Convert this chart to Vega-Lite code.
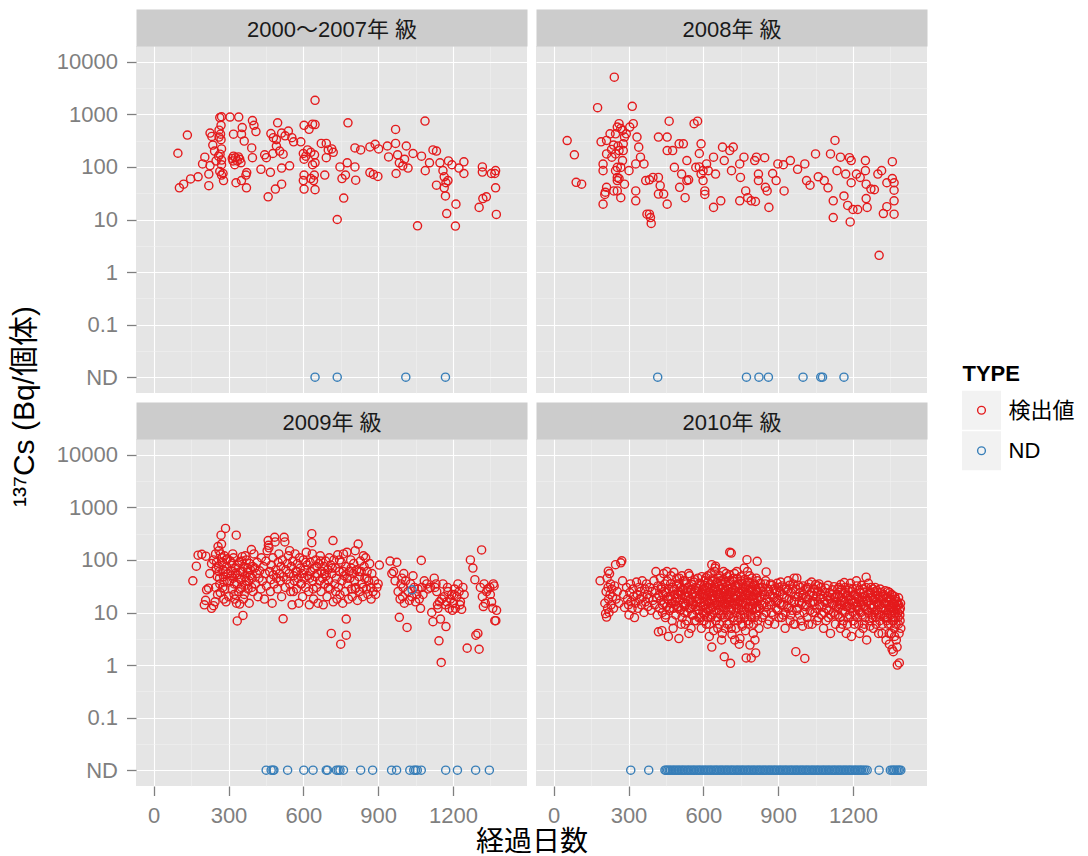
{
"$schema": "https://vega.github.io/schema/vega-lite/v6.json",
"background": "#FFFFFF",
"padding": {"left": 9, "top": 18, "right": 0, "bottom": 0},
"config": {"font": "Liberation Sans, Noto Sans CJK JP, sans-serif", "view": {"stroke": null}},
"datasets": {
"p1": [
{"day":97,"cs":182,"type":"検出値"},{"day":103,"cs":40,"type":"検出値"},{"day":120,"cs":47,"type":"検出値"},{"day":135,"cs":403,"type":"検出値"},{"day":148,"cs":59,"type":"検出値"},{"day":178,"cs":65,"type":"検出値"},{"day":196,"cs":114,"type":"検出値"},{"day":205,"cs":153,"type":"検出値"},{"day":221,"cs":44,"type":"検出値"},{"day":221,"cs":73,"type":"検出値"},{"day":226,"cs":440,"type":"検出値"},{"day":226,"cs":106,"type":"検出値"},{"day":233,"cs":380,"type":"検出値"},{"day":237,"cs":260,"type":"検出値"},{"day":244,"cs":200,"type":"検出値"},{"day":250,"cs":130,"type":"検出値"},{"day":260,"cs":160,"type":"検出値"},{"day":262,"cs":500,"type":"検出値"},{"day":265,"cs":870,"type":"検出値"},{"day":272,"cs":900,"type":"検出値"},{"day":270,"cs":620,"type":"検出値"},{"day":268,"cs":420,"type":"検出値"},{"day":262,"cs":370,"type":"検出値"},{"day":270,"cs":330,"type":"検出値"},{"day":272,"cs":220,"type":"検出値"},{"day":266,"cs":175,"type":"検出値"},{"day":272,"cs":135,"type":"検出値"},{"day":272,"cs":110,"type":"検出値"},{"day":265,"cs":82,"type":"検出値"},{"day":272,"cs":70,"type":"検出値"},{"day":278,"cs":75,"type":"検出値"},{"day":280,"cs":55,"type":"検出値"},{"day":306,"cs":890,"type":"検出値"},{"day":341,"cs":890,"type":"検出値"},{"day":315,"cs":145,"type":"検出値"},{"day":320,"cs":160,"type":"検出値"},{"day":328,"cs":150,"type":"検出値"},{"day":335,"cs":130,"type":"検出値"},{"day":345,"cs":140,"type":"検出値"},{"day":350,"cs":120,"type":"検出値"},{"day":325,"cs":110,"type":"検出値"},{"day":318,"cs":130,"type":"検出値"},{"day":340,"cs":155,"type":"検出値"},{"day":320,"cs":420,"type":"検出値"},{"day":355,"cs":560,"type":"検出値"},{"day":352,"cs":420,"type":"検出値"},{"day":363,"cs":310,"type":"検出値"},{"day":330,"cs":50,"type":"検出値"},{"day":352,"cs":55,"type":"検出値"},{"day":372,"cs":40,"type":"検出値"},{"day":370,"cs":70,"type":"検出値"},{"day":373,"cs":78,"type":"検出値"},{"day":396,"cs":760,"type":"検出値"},{"day":402,"cs":620,"type":"検出値"},{"day":410,"cs":470,"type":"検出値"},{"day":393,"cs":230,"type":"検出値"},{"day":396,"cs":150,"type":"検出値"},{"day":430,"cs":90,"type":"検出値"},{"day":445,"cs":170,"type":"検出値"},{"day":452,"cs":150,"type":"検出値"},{"day":459,"cs":27,"type":"検出値"},{"day":468,"cs":79,"type":"検出値"},{"day":488,"cs":38,"type":"検出値"},{"day":513,"cs":47,"type":"検出値"},{"day":497,"cs":690,"type":"検出値"},{"day":470,"cs":430,"type":"検出値"},{"day":480,"cs":360,"type":"検出値"},{"day":492,"cs":330,"type":"検出値"},{"day":513,"cs":440,"type":"検出値"},{"day":527,"cs":390,"type":"検出値"},{"day":540,"cs":480,"type":"検出値"},{"day":554,"cs":360,"type":"検出値"},{"day":561,"cs":300,"type":"検出値"},{"day":492,"cs":250,"type":"検出値"},{"day":505,"cs":200,"type":"検出値"},{"day":519,"cs":175,"type":"検出値"},{"day":478,"cs":180,"type":"検出値"},{"day":513,"cs":95,"type":"検出値"},{"day":545,"cs":105,"type":"検出値"},{"day":590,"cs":300,"type":"検出値"},{"day":603,"cs":620,"type":"検出値"},{"day":623,"cs":520,"type":"検出値"},{"day":637,"cs":650,"type":"検出値"},{"day":647,"cs":640,"type":"検出値"},{"day":647,"cs":1850,"type":"検出値"},{"day":600,"cs":180,"type":"検出値"},{"day":610,"cs":160,"type":"検出値"},{"day":603,"cs":140,"type":"検出値"},{"day":617,"cs":210,"type":"検出値"},{"day":630,"cs":190,"type":"検出値"},{"day":645,"cs":170,"type":"検出値"},{"day":603,"cs":70,"type":"検出値"},{"day":600,"cs":55,"type":"検出値"},{"day":603,"cs":38,"type":"検出値"},{"day":630,"cs":60,"type":"検出値"},{"day":641,"cs":55,"type":"検出値"},{"day":647,"cs":37,"type":"検出値"},{"day":644,"cs":70,"type":"検出値"},{"day":637,"cs":110,"type":"検出値"},{"day":647,"cs":120,"type":"検出値"},{"day":686,"cs":70,"type":"検出値"},{"day":672,"cs":280,"type":"検出値"},{"day":692,"cs":280,"type":"検出値"},{"day":700,"cs":210,"type":"検出値"},{"day":714,"cs":220,"type":"検出値"},{"day":720,"cs":190,"type":"検出値"},{"day":692,"cs":150,"type":"検出値"},{"day":736,"cs":10,"type":"検出値"},{"day":747,"cs":100,"type":"検出値"},{"day":762,"cs":25.6,"type":"検出値"},{"day":755,"cs":60,"type":"検出値"},{"day":769,"cs":70,"type":"検出値"},{"day":776,"cs":120,"type":"検出値"},{"day":779,"cs":690,"type":"検出値"},{"day":807,"cs":100,"type":"検出値"},{"day":810,"cs":56,"type":"検出値"},{"day":807,"cs":230,"type":"検出値"},{"day":830,"cs":210,"type":"検出値"},{"day":867,"cs":78,"type":"検出値"},{"day":881,"cs":72,"type":"検出値"},{"day":899,"cs":66,"type":"検出値"},{"day":867,"cs":240,"type":"検出値"},{"day":888,"cs":270,"type":"検出値"},{"day":902,"cs":220,"type":"検出値"},{"day":937,"cs":250,"type":"検出値"},{"day":942,"cs":155,"type":"検出値"},{"day":970,"cs":516,"type":"検出値"},{"day":972,"cs":75,"type":"検出値"},{"day":970,"cs":280,"type":"検出値"},{"day":978,"cs":170,"type":"検出値"},{"day":985,"cs":120,"type":"検出値"},{"day":999,"cs":105,"type":"検出値"},{"day":1006,"cs":140,"type":"検出値"},{"day":1013,"cs":250,"type":"検出値"},{"day":1020,"cs":95,"type":"検出値"},{"day":1040,"cs":180,"type":"検出値"},{"day":1058,"cs":7.6,"type":"検出値"},{"day":1074,"cs":160,"type":"検出値"},{"day":1088,"cs":746,"type":"検出値"},{"day":1089,"cs":85,"type":"検出値"},{"day":1106,"cs":120,"type":"検出値"},{"day":1120,"cs":210,"type":"検出値"},{"day":1134,"cs":200,"type":"検出値"},{"day":1134,"cs":45,"type":"検出値"},{"day":1148,"cs":120,"type":"検出値"},{"day":1160,"cs":85,"type":"検出値"},{"day":1165,"cs":65,"type":"検出値"},{"day":1172,"cs":50,"type":"検出値"},{"day":1165,"cs":40,"type":"検出値"},{"day":1170,"cs":28,"type":"検出値"},{"day":1175,"cs":13,"type":"検出値"},{"day":1180,"cs":55,"type":"検出値"},{"day":1182,"cs":130,"type":"検出値"},{"day":1196,"cs":110,"type":"検出値"},{"day":1210,"cs":7.5,"type":"検出値"},{"day":1212,"cs":19.6,"type":"検出値"},{"day":1224,"cs":95,"type":"検出値"},{"day":1244,"cs":125,"type":"検出値"},{"day":1244,"cs":75,"type":"検出値"},{"day":1305,"cs":17,"type":"検出値"},{"day":1320,"cs":25,"type":"検出値"},{"day":1334,"cs":27,"type":"検出値"},{"day":1318,"cs":100,"type":"検出値"},{"day":1318,"cs":80,"type":"検出値"},{"day":1354,"cs":75,"type":"検出値"},{"day":1368,"cs":75,"type":"検出値"},{"day":1371,"cs":85,"type":"検出値"},{"day":1371,"cs":40,"type":"検出値"},{"day":1374,"cs":12.5,"type":"検出値"},
{"day":647,"cs":0.01,"type":"ND"},{"day":736,"cs":0.01,"type":"ND"},{"day":1011,"cs":0.01,"type":"ND"},{"day":1170,"cs":0.01,"type":"ND"}
],
"p2": [
{"day":243,"cs":5090,"type":"検出値"},{"day":176,"cs":1340,"type":"検出値"},{"day":315,"cs":1420,"type":"検出値"},{"day":54,"cs":318,"type":"検出値"},{"day":83,"cs":170,"type":"検出値"},{"day":90,"cs":51,"type":"検出値"},{"day":112,"cs":47,"type":"検出値"},{"day":255,"cs":573,"type":"検出値"},{"day":262,"cs":664,"type":"検出値"},{"day":269,"cs":540,"type":"検出値"},{"day":276,"cs":494,"type":"検出値"},{"day":248,"cs":427,"type":"検出値"},{"day":226,"cs":427,"type":"検出値"},{"day":212,"cs":319,"type":"検出値"},{"day":190,"cs":300,"type":"検出値"},{"day":198,"cs":113,"type":"検出値"},{"day":198,"cs":85,"type":"検出値"},{"day":212,"cs":177,"type":"検出値"},{"day":233,"cs":153,"type":"検出値"},{"day":248,"cs":177,"type":"検出値"},{"day":262,"cs":205,"type":"検出値"},{"day":279,"cs":275,"type":"検出値"},{"day":279,"cs":205,"type":"検出値"},{"day":284,"cs":369,"type":"検出値"},{"day":291,"cs":427,"type":"検出値"},{"day":305,"cs":573,"type":"検出値"},{"day":319,"cs":664,"type":"検出値"},{"day":255,"cs":98,"type":"検出値"},{"day":269,"cs":98,"type":"検出値"},{"day":276,"cs":132,"type":"検出値"},{"day":248,"cs":85,"type":"検出値"},{"day":255,"cs":63,"type":"検出値"},{"day":255,"cs":55,"type":"検出値"},{"day":262,"cs":60,"type":"検出値"},{"day":284,"cs":47,"type":"検出値"},{"day":212,"cs":41,"type":"検出値"},{"day":205,"cs":30,"type":"検出値"},{"day":207,"cs":33,"type":"検出値"},{"day":255,"cs":35,"type":"検出値"},{"day":269,"cs":26,"type":"検出値"},{"day":198,"cs":19.6,"type":"検出値"},{"day":241,"cs":35,"type":"検出値"},{"day":240,"cs":260,"type":"検出値"},{"day":232,"cs":215,"type":"検出値"},{"day":258,"cs":250,"type":"検出値"},
{"day":302,"cs":85,"type":"検出値"},{"day":329,"cs":114,"type":"検出値"},{"day":334,"cs":369,"type":"検出値"},{"day":341,"cs":238,"type":"検出値"},{"day":329,"cs":35,"type":"検出値"},{"day":329,"cs":22.7,"type":"検出値"},{"day":348,"cs":153,"type":"検出値"},{"day":362,"cs":114,"type":"検出値"},{"day":369,"cs":55,"type":"検出値"},{"day":384,"cs":57,"type":"検出値"},{"day":398,"cs":63,"type":"検出値"},{"day":420,"cs":63,"type":"検出値"},{"day":420,"cs":30.5,"type":"検出値"},{"day":441,"cs":30.5,"type":"検出値"},{"day":455,"cs":19.6,"type":"検出値"},{"day":427,"cs":44,"type":"検出値"},{"day":420,"cs":369,"type":"検出値"},{"day":455,"cs":369,"type":"検出値"},{"day":455,"cs":205,"type":"検出値"},{"day":463,"cs":740,"type":"検出値"},{"day":477,"cs":205,"type":"検出値"},{"day":484,"cs":98,"type":"検出値"},{"day":505,"cs":41,"type":"検出値"},{"day":513,"cs":73,"type":"検出値"},{"day":503,"cs":275,"type":"検出値"},{"day":520,"cs":275,"type":"検出値"},{"day":527,"cs":26,"type":"検出値"},{"day":534,"cs":132,"type":"検出値"},{"day":534,"cs":55,"type":"検出値"},{"day":541,"cs":57,"type":"検出値"},{"day":563,"cs":664,"type":"検出値"},{"day":577,"cs":740,"type":"検出値"},{"day":584,"cs":180,"type":"検出値"},{"day":591,"cs":275,"type":"検出値"},{"day":570,"cs":98,"type":"検出値"},{"day":584,"cs":100,"type":"検出値"},{"day":591,"cs":73,"type":"検出値"},{"day":599,"cs":85,"type":"検出値"},{"day":599,"cs":55,"type":"検出値"},{"day":606,"cs":35,"type":"検出値"},{"day":606,"cs":30,"type":"検出値"},{"day":613,"cs":114,"type":"検出値"},{"day":620,"cs":85,"type":"検出値"},{"day":641,"cs":153,"type":"検出値"},{"day":641,"cs":17,"type":"検出値"},{"day":649,"cs":73,"type":"検出値"},{"day":670,"cs":22.7,"type":"検出値"},{"day":677,"cs":238,"type":"検出値"},{"day":684,"cs":132,"type":"検出値"},{"day":706,"cs":205,"type":"検出値"},{"day":720,"cs":238,"type":"検出値"},{"day":713,"cs":85,"type":"検出値"},{"day":746,"cs":114,"type":"検出値"},{"day":749,"cs":63,"type":"検出値"},{"day":746,"cs":22.7,"type":"検出値"},{"day":763,"cs":153,"type":"検出値"},{"day":770,"cs":35,"type":"検出値"},{"day":778,"cs":26,"type":"検出値"},{"day":792,"cs":22.7,"type":"検出値"},{"day":809,"cs":22,"type":"検出値"},{"day":806,"cs":132,"type":"検出値"},{"day":813,"cs":153,"type":"検出値"},{"day":821,"cs":73,"type":"検出値"},{"day":821,"cs":55,"type":"検出値"},{"day":846,"cs":150,"type":"検出値"},{"day":849,"cs":41,"type":"検出値"},{"day":856,"cs":35,"type":"検出値"},{"day":863,"cs":17,"type":"検出値"},{"day":878,"cs":75,"type":"検出値"},{"day":892,"cs":55,"type":"検出値"},{"day":899,"cs":114,"type":"検出値"},{"day":921,"cs":110,"type":"検出値"},{"day":924,"cs":35,"type":"検出値"},{"day":949,"cs":132,"type":"検出値"},{"day":978,"cs":90,"type":"検出値"},{"day":1007,"cs":114,"type":"検出値"},{"day":1014,"cs":55,"type":"検出値"},{"day":1028,"cs":45,"type":"検出値"},{"day":1050,"cs":177,"type":"検出値"},{"day":1061,"cs":65,"type":"検出値"},{"day":1085,"cs":55,"type":"検出値"},{"day":1100,"cs":40,"type":"検出値"},{"day":1110,"cs":177,"type":"検出値"},{"day":1128,"cs":319,"type":"検出値"},{"day":1150,"cs":153,"type":"検出値"},{"day":1121,"cs":22.7,"type":"検出値"},{"day":1121,"cs":10.9,"type":"検出値"},{"day":1136,"cs":85,"type":"検出値"},{"day":1164,"cs":28,"type":"検出値"},{"day":1171,"cs":73,"type":"検出値"},{"day":1179,"cs":18.5,"type":"検出値"},{"day":1186,"cs":150,"type":"検出値"},{"day":1189,"cs":9,"type":"検出値"},{"day":1193,"cs":132,"type":"検出値"},{"day":1193,"cs":50,"type":"検出値"},{"day":1200,"cs":15.5,"type":"検出値"},{"day":1214,"cs":73,"type":"検出値"},{"day":1219,"cs":15.5,"type":"検出値"},{"day":1229,"cs":63,"type":"検出値"},{"day":1250,"cs":132,"type":"検出値"},{"day":1250,"cs":85,"type":"検出値"},{"day":1253,"cs":47,"type":"検出値"},{"day":1253,"cs":25,"type":"検出値"},{"day":1257,"cs":17,"type":"検出値"},{"day":1272,"cs":38,"type":"検出値"},{"day":1286,"cs":37,"type":"検出値"},{"day":1300,"cs":73,"type":"検出値"},{"day":1315,"cs":85,"type":"検出値"},{"day":1336,"cs":50,"type":"検出値"},{"day":1358,"cs":60,"type":"検出値"},{"day":1358,"cs":126,"type":"検出値"},{"day":1365,"cs":50,"type":"検出値"},{"day":1365,"cs":36,"type":"検出値"},{"day":1365,"cs":22.7,"type":"検出値"},{"day":1336,"cs":17.5,"type":"検出値"},{"day":1322,"cs":13,"type":"検出値"},{"day":1365,"cs":12.6,"type":"検出値"},{"day":1305,"cs":2.08,"type":"検出値"},{"day":388,"cs":10.9,"type":"検出値"},{"day":384,"cs":12.6,"type":"検出値"},{"day":374,"cs":12.6,"type":"検出値"},{"day":391,"cs":8.4,"type":"検出値"},
{"day":417,"cs":0.01,"type":"ND"},{"day":773,"cs":0.01,"type":"ND"},{"day":823,"cs":0.01,"type":"ND"},{"day":861,"cs":0.01,"type":"ND"},{"day":1000,"cs":0.01,"type":"ND"},{"day":1071,"cs":0.01,"type":"ND"},{"day":1078,"cs":0.01,"type":"ND"},{"day":1164,"cs":0.01,"type":"ND"}
],
"p3": [
{"day":157,"cs":40,"type":"検出値"},{"day":171,"cs":76,"type":"検出値"},{"day":178,"cs":123,"type":"検出値"},{"day":193,"cs":128,"type":"検出値"},{"day":209,"cs":118,"type":"検出値"},{"day":203,"cs":14,"type":"検出値"},{"day":208,"cs":17,"type":"検出値"},{"day":212,"cs":27,"type":"検出値"},{"day":220,"cs":29,"type":"検出値"},{"day":232,"cs":12,"type":"検出値"},{"day":240,"cs":13.5,"type":"検出値"},{"day":246,"cs":16,"type":"検出値"},{"day":225,"cs":55,"type":"検出値"},{"day":232,"cs":85,"type":"検出値"},{"day":240,"cs":100,"type":"検出値"},{"day":248,"cs":130,"type":"検出値"},{"day":251,"cs":70,"type":"検出値"},{"day":255,"cs":48,"type":"検出値"},{"day":248,"cs":30,"type":"検出値"},
{"day":258,"cs":180,"type":"検出値"},{"day":262,"cs":150,"type":"検出値"},{"day":262,"cs":60,"type":"検出値"},{"day":265,"cs":35,"type":"検出値"},{"day":267,"cs":24,"type":"検出値"},{"day":270,"cs":296,"type":"検出値"},{"day":272,"cs":200,"type":"検出値"},{"day":274,"cs":110,"type":"検出値"},{"day":276,"cs":90,"type":"検出値"},{"day":278,"cs":65,"type":"検出値"},{"day":280,"cs":48,"type":"検出値"},{"day":282,"cs":38,"type":"検出値"},{"day":285,"cs":28,"type":"検出値"},{"day":288,"cs":397,"type":"検出値"},{"day":283,"cs":120,"type":"検出値"},{"day":290,"cs":16,"type":"検出値"},{"day":292,"cs":75,"type":"検出値"},{"day":295,"cs":105,"type":"検出値"},{"day":298,"cs":55,"type":"検出値"},
{"day":305,"cs":40,"type":"検出値"},{"day":310,"cs":62,"type":"検出値"},{"day":313,"cs":85,"type":"検出値"},{"day":315,"cs":28,"type":"検出値"},{"day":318,"cs":45,"type":"検出値"},{"day":320,"cs":110,"type":"検出値"},{"day":322,"cs":22,"type":"検出値"},{"day":325,"cs":18,"type":"検出値"},{"day":328,"cs":70,"type":"検出値"},{"day":331,"cs":296,"type":"検出値"},{"day":333,"cs":35,"type":"検出値"},{"day":335,"cs":6.9,"type":"検出値"},{"day":336,"cs":52,"type":"検出値"},{"day":340,"cs":25,"type":"検出値"},{"day":343,"cs":90,"type":"検出値"},{"day":345,"cs":14.5,"type":"検出値"},{"day":348,"cs":60,"type":"検出値"},{"day":350,"cs":42,"type":"検出値"},{"day":352,"cs":30,"type":"検出値"},{"day":355,"cs":115,"type":"検出値"},{"day":358,"cs":8.8,"type":"検出値"},{"day":360,"cs":18,"type":"検出値"},{"day":362,"cs":75,"type":"検出値"},{"day":365,"cs":48,"type":"検出値"},{"day":368,"cs":33,"type":"検出値"},{"day":372,"cs":100,"type":"検出値"},{"day":375,"cs":58,"type":"検出値"},{"day":378,"cs":28,"type":"検出値"},{"day":382,"cs":40,"type":"検出値"},{"day":385,"cs":85,"type":"検出値"},{"day":388,"cs":65,"type":"検出値"},{"day":392,"cs":157,"type":"検出値"},{"day":395,"cs":45,"type":"検出値"},{"day":398,"cs":25,"type":"検出値"},
{"day":252,"cs":90,"type":"検出値"},{"day":256,"cs":22,"type":"検出値"},{"day":260,"cs":75,"type":"検出値"},{"day":264,"cs":45,"type":"検出値"},{"day":268,"cs":130,"type":"検出値"},{"day":277,"cs":30,"type":"検出値"},{"day":281,"cs":18,"type":"検出値"},{"day":287,"cs":60,"type":"検出値"},{"day":291,"cs":100,"type":"検出値"},{"day":296,"cs":40,"type":"検出値"},{"day":301,"cs":20,"type":"検出値"},{"day":307,"cs":95,"type":"検出値"},{"day":312,"cs":50,"type":"検出値"},{"day":317,"cs":130,"type":"検出値"},{"day":323,"cs":35,"type":"検出値"},{"day":327,"cs":55,"type":"検出値"},{"day":332,"cs":15,"type":"検出値"},{"day":338,"cs":80,"type":"検出値"},{"day":342,"cs":45,"type":"検出値"},{"day":347,"cs":28,"type":"検出値"},{"day":353,"cs":95,"type":"検出値"},{"day":357,"cs":60,"type":"検出値"},{"day":363,"cs":22,"type":"検出値"},{"day":367,"cs":120,"type":"検出値"},{"day":371,"cs":40,"type":"検出値"},{"day":377,"cs":70,"type":"検出値"},{"day":383,"cs":15,"type":"検出値"},{"day":387,"cs":50,"type":"検出値"},{"day":393,"cs":30,"type":"検出値"},{"day":397,"cs":75,"type":"検出値"},
{"day":402,"cs":130,"type":"検出値"},{"day":405,"cs":70,"type":"検出値"},{"day":408,"cs":35,"type":"検出値"},{"day":412,"cs":55,"type":"検出値"},{"day":415,"cs":90,"type":"検出値"},{"day":418,"cs":20,"type":"検出値"},{"day":422,"cs":45,"type":"検出値"},{"day":425,"cs":62,"type":"検出値"},{"day":430,"cs":28,"type":"検出値"},{"day":432,"cs":110,"type":"検出値"},{"day":436,"cs":40,"type":"検出値"},{"day":440,"cs":75,"type":"検出値"},{"day":444,"cs":18,"type":"検出値"},{"day":447,"cs":55,"type":"検出値"},{"day":450,"cs":95,"type":"検出値"},{"day":452,"cs":32,"type":"検出値"},{"day":455,"cs":150,"type":"検出値"},{"day":459,"cs":234,"type":"検出値"},{"day":460,"cs":190,"type":"検出値"},{"day":462,"cs":170,"type":"検出値"},{"day":465,"cs":60,"type":"検出値"},{"day":468,"cs":25,"type":"検出値"},{"day":470,"cs":42,"type":"検出値"},{"day":472,"cs":80,"type":"検出値"},{"day":475,"cs":15,"type":"検出値"},{"day":478,"cs":110,"type":"検出値"},{"day":480,"cs":52,"type":"検出値"},{"day":483,"cs":35,"type":"検出値"},{"day":485,"cs":270,"type":"検出値"},{"day":487,"cs":220,"type":"検出値"},{"day":490,"cs":65,"type":"検出値"},{"day":493,"cs":45,"type":"検出値"},{"day":496,"cs":28,"type":"検出値"},{"day":499,"cs":90,"type":"検出値"},
{"day":502,"cs":130,"type":"検出値"},{"day":505,"cs":55,"type":"検出値"},{"day":508,"cs":40,"type":"検出値"},{"day":510,"cs":75,"type":"検出値"},{"day":513,"cs":20,"type":"検出値"},{"day":516,"cs":100,"type":"検出値"},{"day":519,"cs":7.6,"type":"検出値"},{"day":520,"cs":48,"type":"検出値"},{"day":523,"cs":270,"type":"検出値"},{"day":526,"cs":220,"type":"検出値"},{"day":528,"cs":30,"type":"検出値"},{"day":530,"cs":65,"type":"検出値"},{"day":533,"cs":42,"type":"検出値"},{"day":536,"cs":85,"type":"検出値"},{"day":540,"cs":120,"type":"検出値"},{"day":543,"cs":55,"type":"検出値"},{"day":546,"cs":35,"type":"検出値"},{"day":549,"cs":25,"type":"検出値"},{"day":552,"cs":75,"type":"検出値"},{"day":555,"cs":14,"type":"検出値"},{"day":558,"cs":95,"type":"検出値"},{"day":561,"cs":50,"type":"検出値"},{"day":564,"cs":40,"type":"検出値"},{"day":567,"cs":130,"type":"検出値"},{"day":570,"cs":60,"type":"検出値"},{"day":573,"cs":28,"type":"検出値"},{"day":576,"cs":85,"type":"検出値"},{"day":579,"cs":45,"type":"検出値"},{"day":582,"cs":15,"type":"検出値"},{"day":585,"cs":110,"type":"検出値"},{"day":588,"cs":70,"type":"検出値"},{"day":590,"cs":35,"type":"検出値"},{"day":594,"cs":55,"type":"検出値"},{"day":597,"cs":20,"type":"検出値"},
{"day":545,"cs":150,"type":"検出値"},{"day":560,"cs":25,"type":"検出値"},{"day":575,"cs":60,"type":"検出値"},{"day":593,"cs":35,"type":"検出値"},{"day":610,"cs":90,"type":"検出値"},{"day":625,"cs":45,"type":"検出値"},{"day":640,"cs":28,"type":"検出値"},{"day":655,"cs":75,"type":"検出値"},{"day":670,"cs":95,"type":"検出値"},{"day":685,"cs":55,"type":"検出値"},{"day":700,"cs":30,"type":"検出値"},{"day":716,"cs":70,"type":"検出値"},{"day":730,"cs":25,"type":"検出値"},{"day":745,"cs":100,"type":"検出値"},{"day":760,"cs":60,"type":"検出値"},{"day":776,"cs":45,"type":"検出値"},{"day":792,"cs":70,"type":"検出値"},{"day":808,"cs":28,"type":"検出値"},{"day":824,"cs":60,"type":"検出値"},{"day":840,"cs":30,"type":"検出値"},{"day":856,"cs":45,"type":"検出値"},{"day":872,"cs":18,"type":"検出値"},
{"day":600,"cs":100,"type":"検出値"},{"day":603,"cs":45,"type":"検出値"},{"day":606,"cs":65,"type":"検出値"},{"day":609,"cs":30,"type":"検出値"},{"day":612,"cs":140,"type":"検出値"},{"day":615,"cs":80,"type":"検出値"},{"day":618,"cs":50,"type":"検出値"},{"day":621,"cs":25,"type":"検出値"},{"day":624,"cs":14,"type":"検出値"},{"day":627,"cs":90,"type":"検出値"},{"day":630,"cs":60,"type":"検出値"},{"day":634,"cs":315,"type":"検出値"},{"day":634,"cs":213,"type":"検出値"},{"day":636,"cs":130,"type":"検出値"},{"day":638,"cs":40,"type":"検出値"},{"day":641,"cs":18,"type":"検出値"},{"day":644,"cs":70,"type":"検出値"},{"day":647,"cs":48,"type":"検出値"},{"day":650,"cs":100,"type":"検出値"},{"day":653,"cs":30,"type":"検出値"},{"day":656,"cs":55,"type":"検出値"},{"day":659,"cs":15,"type":"検出値"},{"day":662,"cs":85,"type":"検出値"},{"day":665,"cs":40,"type":"検出値"},{"day":668,"cs":120,"type":"検出値"},{"day":671,"cs":25,"type":"検出値"},{"day":674,"cs":60,"type":"検出値"},{"day":677,"cs":45,"type":"検出値"},{"day":680,"cs":14,"type":"検出値"},{"day":683,"cs":75,"type":"検出値"},{"day":686,"cs":35,"type":"検出値"},{"day":689,"cs":95,"type":"検出値"},{"day":692,"cs":50,"type":"検出値"},{"day":695,"cs":20,"type":"検出値"},{"day":698,"cs":65,"type":"検出値"},
{"day":701,"cs":40,"type":"検出値"},{"day":704,"cs":110,"type":"検出値"},{"day":707,"cs":28,"type":"検出値"},{"day":710,"cs":80,"type":"検出値"},{"day":712,"cs":4.0,"type":"検出値"},{"day":715,"cs":55,"type":"検出値"},{"day":719,"cs":234,"type":"検出値"},{"day":720,"cs":16,"type":"検出値"},{"day":723,"cs":100,"type":"検出値"},{"day":726,"cs":35,"type":"検出値"},{"day":729,"cs":70,"type":"検出値"},{"day":732,"cs":45,"type":"検出値"},{"day":735,"cs":18,"type":"検出値"},{"day":738,"cs":125,"type":"検出値"},{"day":741,"cs":30,"type":"検出値"},{"day":744,"cs":60,"type":"検出値"},{"day":747,"cs":22,"type":"検出値"},{"day":750,"cs":2.5,"type":"検出値"},{"day":752,"cs":90,"type":"検出値"},{"day":755,"cs":40,"type":"検出値"},{"day":758,"cs":15,"type":"検出値"},{"day":761,"cs":130,"type":"検出値"},{"day":764,"cs":50,"type":"検出値"},{"day":767,"cs":25,"type":"検出値"},{"day":770,"cs":75,"type":"検出値"},{"day":772,"cs":3.7,"type":"検出値"},{"day":772,"cs":7.5,"type":"検出値"},{"day":775,"cs":140,"type":"検出値"},{"day":778,"cs":35,"type":"検出値"},{"day":781,"cs":18,"type":"検出値"},{"day":784,"cs":60,"type":"検出値"},{"day":787,"cs":45,"type":"検出値"},{"day":790,"cs":100,"type":"検出値"},{"day":793,"cs":28,"type":"検出値"},{"day":796,"cs":20,"type":"検出値"},{"day":799,"cs":55,"type":"検出値"},
{"day":802,"cs":85,"type":"検出値"},{"day":805,"cs":40,"type":"検出値"},{"day":808,"cs":150,"type":"検出値"},{"day":811,"cs":30,"type":"検出値"},{"day":814,"cs":65,"type":"検出値"},{"day":817,"cs":17,"type":"検出値"},{"day":820,"cs":200,"type":"検出値"},{"day":823,"cs":48,"type":"検出値"},{"day":826,"cs":25,"type":"検出値"},{"day":829,"cs":95,"type":"検出値"},{"day":832,"cs":60,"type":"検出値"},{"day":835,"cs":35,"type":"検出値"},{"day":838,"cs":20,"type":"検出値"},{"day":841,"cs":120,"type":"検出値"},{"day":844,"cs":75,"type":"検出値"},{"day":847,"cs":45,"type":"検出値"},{"day":850,"cs":110,"type":"検出値"},{"day":853,"cs":28,"type":"検出値"},{"day":856,"cs":60,"type":"検出値"},{"day":859,"cs":22,"type":"検出値"},{"day":862,"cs":40,"type":"検出値"},{"day":866,"cs":85,"type":"検出値"},{"day":870,"cs":30,"type":"検出値"},{"day":875,"cs":55,"type":"検出値"},{"day":880,"cs":25,"type":"検出値"},{"day":885,"cs":40,"type":"検出値"},{"day":890,"cs":22,"type":"検出値"},{"day":895,"cs":30,"type":"検出値"},{"day":900,"cs":35,"type":"検出値"},{"day":905,"cs":80,"type":"検出値"},
{"day":948,"cs":95,"type":"検出値"},{"day":955,"cs":55,"type":"検出値"},{"day":962,"cs":60,"type":"検出値"},{"day":968,"cs":40,"type":"検出値"},{"day":975,"cs":90,"type":"検出値"},{"day":980,"cs":25,"type":"検出値"},{"day":985,"cs":8.1,"type":"検出値"},{"day":988,"cs":18,"type":"検出値"},{"day":992,"cs":35,"type":"検出値"},{"day":995,"cs":45,"type":"検出値"},{"day":998,"cs":20,"type":"検出値"},{"day":1000,"cs":30,"type":"検出値"},{"day":1003,"cs":55,"type":"検出値"},
{"day":1005,"cs":15,"type":"検出値"},{"day":1010,"cs":40,"type":"検出値"},{"day":1016,"cs":5.2,"type":"検出値"},{"day":1020,"cs":25,"type":"検出値"},{"day":1025,"cs":17,"type":"検出値"},{"day":1030,"cs":35,"type":"検出値"},{"day":1035,"cs":20,"type":"検出値"},{"day":1040,"cs":50,"type":"検出値"},{"day":1045,"cs":30,"type":"検出値"},{"day":1050,"cs":16,"type":"検出値"},{"day":1055,"cs":22,"type":"検出値"},{"day":1060,"cs":28,"type":"検出値"},{"day":1065,"cs":18,"type":"検出値"},{"day":1070,"cs":12,"type":"検出値"},{"day":1073,"cs":98,"type":"検出値"},{"day":1075,"cs":30,"type":"検出値"},{"day":1080,"cs":22,"type":"検出値"},{"day":1085,"cs":40,"type":"検出値"},{"day":1095,"cs":35,"type":"検出値"},{"day":1100,"cs":28,"type":"検出値"},
{"day":1110,"cs":30,"type":"検出値"},{"day":1115,"cs":10,"type":"検出値"},{"day":1120,"cs":6.7,"type":"検出値"},{"day":1125,"cs":45,"type":"検出値"},{"day":1128,"cs":30,"type":"検出値"},{"day":1132,"cs":35,"type":"検出値"},{"day":1135,"cs":25,"type":"検出値"},{"day":1138,"cs":14,"type":"検出値"},{"day":1140,"cs":12,"type":"検出値"},{"day":1144,"cs":2.9,"type":"検出値"},{"day":1146,"cs":16,"type":"検出値"},{"day":1150,"cs":7.5,"type":"検出値"},{"day":1153,"cs":1.12,"type":"検出値"},{"day":1155,"cs":18,"type":"検出値"},{"day":1160,"cs":35,"type":"検出値"},{"day":1165,"cs":20,"type":"検出値"},{"day":1170,"cs":14,"type":"検出値"},{"day":1172,"cs":5.4,"type":"検出値"},{"day":1175,"cs":16,"type":"検出値"},{"day":1178,"cs":30,"type":"検出値"},{"day":1180,"cs":25,"type":"検出値"},{"day":1185,"cs":12,"type":"検出値"},{"day":1190,"cs":18,"type":"検出値"},{"day":1195,"cs":22,"type":"検出値"},{"day":1198,"cs":11,"type":"検出値"},
{"day":1202,"cs":15,"type":"検出値"},{"day":1205,"cs":22,"type":"検出値"},{"day":1206,"cs":28,"type":"検出値"},{"day":1210,"cs":12,"type":"検出値"},{"day":1215,"cs":20,"type":"検出値"},{"day":1220,"cs":35,"type":"検出値"},{"day":1225,"cs":25,"type":"検出値"},{"day":1228,"cs":14,"type":"検出値"},{"day":1230,"cs":16,"type":"検出値"},{"day":1235,"cs":11.5,"type":"検出値"},{"day":1240,"cs":30,"type":"検出値"},{"day":1245,"cs":22,"type":"検出値"},{"day":1257,"cs":2.1,"type":"検出値"},{"day":1270,"cs":100,"type":"検出値"},{"day":1280,"cs":70,"type":"検出値"},{"day":1288,"cs":42,"type":"検出値"},{"day":1292,"cs":3.7,"type":"検出値"},{"day":1300,"cs":4.0,"type":"検出値"},{"day":1305,"cs":2.0,"type":"検出値"},{"day":1310,"cs":30,"type":"検出値"},{"day":1315,"cs":155,"type":"検出値"},{"day":1318,"cs":20,"type":"検出値"},{"day":1322,"cs":13,"type":"検出値"},{"day":1325,"cs":35,"type":"検出値"},{"day":1330,"cs":15,"type":"検出値"},{"day":1335,"cs":25,"type":"検出値"},{"day":1340,"cs":28,"type":"検出値"},{"day":1348,"cs":30,"type":"検出値"},{"day":1350,"cs":22,"type":"検出値"},{"day":1355,"cs":16,"type":"検出値"},{"day":1360,"cs":12,"type":"検出値"},{"day":1362,"cs":35,"type":"検出値"},{"day":1365,"cs":32,"type":"検出値"},{"day":1368,"cs":7,"type":"検出値"},{"day":1372,"cs":7,"type":"検出値"},{"day":1375,"cs":11,"type":"検出値"},
{"day":1036,"cs":27,"type":"ND"},
{"day":451,"cs":0.01,"type":"ND"},{"day":471,"cs":0.01,"type":"ND"},{"day":478,"cs":0.01,"type":"ND"},{"day":482,"cs":0.01,"type":"ND"},{"day":537,"cs":0.01,"type":"ND"},{"day":602,"cs":0.01,"type":"ND"},{"day":639,"cs":0.01,"type":"ND"},{"day":692,"cs":0.01,"type":"ND"},{"day":697,"cs":0.01,"type":"ND"},{"day":733,"cs":0.01,"type":"ND"},{"day":740,"cs":0.01,"type":"ND"},{"day":747,"cs":0.01,"type":"ND"},{"day":761,"cs":0.01,"type":"ND"},{"day":830,"cs":0.01,"type":"ND"},{"day":878,"cs":0.01,"type":"ND"},{"day":954,"cs":0.01,"type":"ND"},{"day":974,"cs":0.01,"type":"ND"},{"day":1027,"cs":0.01,"type":"ND"},{"day":1043,"cs":0.01,"type":"ND"},{"day":1050,"cs":0.01,"type":"ND"},{"day":1057,"cs":0.01,"type":"ND"},{"day":1073,"cs":0.01,"type":"ND"},{"day":1171,"cs":0.01,"type":"ND"},{"day":1218,"cs":0.01,"type":"ND"},{"day":1291,"cs":0.01,"type":"ND"},{"day":1346,"cs":0.01,"type":"ND"}
],
"p4": [
{"day":186,"cs":40,"type":"検出値"},{"day":205,"cs":15,"type":"検出値"},{"day":208,"cs":9.5,"type":"検出値"},{"day":210,"cs":25,"type":"検出値"},{"day":212,"cs":8.2,"type":"検出値"},{"day":214,"cs":45,"type":"検出値"},{"day":216,"cs":12,"type":"検出値"},{"day":218,"cs":30,"type":"検出値"},{"day":219,"cs":61,"type":"検出値"},{"day":220,"cs":18,"type":"検出値"},{"day":222,"cs":10,"type":"検出値"},{"day":224,"cs":55,"type":"検出値"},{"day":226,"cs":22,"type":"検出値"},{"day":228,"cs":35,"type":"検出値"},{"day":230,"cs":14,"type":"検出値"},{"day":233,"cs":28,"type":"検出値"},{"day":236,"cs":20,"type":"検出値"},{"day":240,"cs":12,"type":"検出値"},{"day":244,"cs":32,"type":"検出値"},{"day":248,"cs":81,"type":"検出値"},{"day":250,"cs":18,"type":"検出値"},{"day":255,"cs":25,"type":"検出値"},{"day":262,"cs":15,"type":"検出値"},{"day":269,"cs":88,"type":"検出値"},{"day":273,"cs":96,"type":"検出値"},{"day":276,"cs":40,"type":"検出値"},{"day":280,"cs":22,"type":"検出値"},{"day":284,"cs":12.5,"type":"検出値"},
{"day":292,"cs":30,"type":"検出値"},{"day":296,"cs":18,"type":"検出値"},{"day":300,"cs":14,"type":"検出値"},{"day":302,"cs":9,"type":"検出値"},{"day":305,"cs":24,"type":"検出値"},{"day":308,"cs":35,"type":"検出値"},{"day":310,"cs":16,"type":"検出値"},{"day":314,"cs":12,"type":"検出値"},{"day":318,"cs":28,"type":"検出値"},{"day":320,"cs":20,"type":"検出値"},{"day":324,"cs":8,"type":"検出値"},{"day":328,"cs":15,"type":"検出値"},{"day":332,"cs":38,"type":"検出値"},{"day":335,"cs":22,"type":"検出値"},{"day":338,"cs":12,"type":"検出値"},{"day":342,"cs":30,"type":"検出値"},{"day":345,"cs":18,"type":"検出値"},{"day":348,"cs":25,"type":"検出値"},{"day":352,"cs":14,"type":"検出値"},{"day":355,"cs":40,"type":"検出値"},{"day":358,"cs":20,"type":"検出値"},{"day":362,"cs":10,"type":"検出値"},{"day":365,"cs":28,"type":"検出値"},{"day":368,"cs":16,"type":"検出値"},{"day":372,"cs":35,"type":"検出値"},{"day":375,"cs":22,"type":"検出値"},{"day":378,"cs":13,"type":"検出値"},{"day":382,"cs":19,"type":"検出値"},{"day":385,"cs":30,"type":"検出値"},{"day":390,"cs":11,"type":"検出値"},{"day":394,"cs":25,"type":"検出値"},{"day":398,"cs":17,"type":"検出値"},
{"day":402,"cs":40,"type":"検出値"},{"day":405,"cs":14,"type":"検出値"},{"day":408,"cs":26,"type":"検出値"},{"day":410,"cs":60,"type":"検出値"},{"day":412,"cs":19,"type":"検出値"},{"day":415,"cs":9,"type":"検出値"},{"day":418,"cs":32,"type":"検出値"},{"day":420,"cs":4.3,"type":"検出値"},{"day":422,"cs":21,"type":"検出値"},{"day":425,"cs":12,"type":"検出値"},{"day":428,"cs":45,"type":"検出値"},{"day":430,"cs":17,"type":"検出値"},{"day":432,"cs":28,"type":"検出値"},{"day":434,"cs":4.5,"type":"検出値"},{"day":436,"cs":10,"type":"検出値"},{"day":438,"cs":22,"type":"検出値"},{"day":441,"cs":55,"type":"検出値"},{"day":443,"cs":15,"type":"検出値"},{"day":446,"cs":35,"type":"検出値"},{"day":448,"cs":8,"type":"検出値"},{"day":450,"cs":24,"type":"検出値"},{"day":453,"cs":13,"type":"検出値"},{"day":455,"cs":40,"type":"検出値"},{"day":458,"cs":18,"type":"検出値"},{"day":460,"cs":3.5,"type":"検出値"},{"day":462,"cs":28,"type":"検出値"},{"day":465,"cs":11,"type":"検出値"},{"day":468,"cs":20,"type":"検出値"},{"day":470,"cs":50,"type":"検出値"},{"day":472,"cs":15,"type":"検出値"},{"day":475,"cs":7,"type":"検出値"},{"day":478,"cs":30,"type":"検出値"},{"day":480,"cs":12,"type":"検出値"},{"day":482,"cs":58,"type":"検出値"},{"day":485,"cs":22,"type":"検出値"},{"day":488,"cs":16,"type":"検出値"},{"day":490,"cs":9,"type":"検出値"},{"day":493,"cs":35,"type":"検出値"},{"day":495,"cs":19,"type":"検出値"},{"day":498,"cs":13,"type":"検出値"},
{"day":431,"cs":30,"type":"検出値"},{"day":437,"cs":14,"type":"検出値"},{"day":444,"cs":25,"type":"検出値"},{"day":449,"cs":9,"type":"検出値"},{"day":454,"cs":60,"type":"検出値"},{"day":459,"cs":20,"type":"検出値"},{"day":464,"cs":12,"type":"検出値"},{"day":469,"cs":35,"type":"検出値"},{"day":474,"cs":18,"type":"検出値"},{"day":479,"cs":5,"type":"検出値"},{"day":484,"cs":28,"type":"検出値"},{"day":489,"cs":14,"type":"検出値"},{"day":494,"cs":45,"type":"検出値"},{"day":497,"cs":22,"type":"検出値"},
{"day":500,"cs":25,"type":"検出値"},{"day":502,"cs":3.2,"type":"検出値"},{"day":504,"cs":45,"type":"検出値"},{"day":506,"cs":17,"type":"検出値"},{"day":508,"cs":11,"type":"検出値"},{"day":510,"cs":30,"type":"検出値"},{"day":512,"cs":22,"type":"検出値"},{"day":515,"cs":8,"type":"検出値"},{"day":518,"cs":15,"type":"検出値"},{"day":520,"cs":40,"type":"検出値"},{"day":522,"cs":27,"type":"検出値"},{"day":525,"cs":13,"type":"検出値"},{"day":527,"cs":6,"type":"検出値"},{"day":530,"cs":20,"type":"検出値"},{"day":532,"cs":35,"type":"検出値"},{"day":535,"cs":10,"type":"検出値"},{"day":537,"cs":24,"type":"検出値"},{"day":540,"cs":16,"type":"検出値"},{"day":542,"cs":4,"type":"検出値"},{"day":545,"cs":50,"type":"検出値"},{"day":547,"cs":18,"type":"検出値"},{"day":550,"cs":12,"type":"検出値"},{"day":552,"cs":28,"type":"検出値"},{"day":555,"cs":9,"type":"検出値"},{"day":557,"cs":22,"type":"検出値"},{"day":560,"cs":14,"type":"検出値"},{"day":562,"cs":38,"type":"検出値"},{"day":565,"cs":7,"type":"検出値"},{"day":567,"cs":20,"type":"検出値"},{"day":570,"cs":30,"type":"検出値"},{"day":572,"cs":11,"type":"検出値"},{"day":575,"cs":16,"type":"検出値"},{"day":578,"cs":45,"type":"検出値"},{"day":580,"cs":25,"type":"検出値"},{"day":582,"cs":8,"type":"検出値"},{"day":585,"cs":18,"type":"検出値"},{"day":588,"cs":13,"type":"検出値"},{"day":590,"cs":33,"type":"検出値"},{"day":592,"cs":5,"type":"検出値"},{"day":595,"cs":22,"type":"検出値"},{"day":598,"cs":10,"type":"検出値"},
{"day":501,"cs":12,"type":"検出値"},{"day":503,"cs":35,"type":"検出値"},{"day":507,"cs":24,"type":"検出値"},{"day":511,"cs":6,"type":"検出値"},{"day":514,"cs":50,"type":"検出値"},{"day":516,"cs":19,"type":"検出値"},{"day":519,"cs":28,"type":"検出値"},{"day":523,"cs":10,"type":"検出値"},{"day":526,"cs":40,"type":"検出値"},{"day":529,"cs":15,"type":"検出値"},{"day":533,"cs":7,"type":"検出値"},{"day":536,"cs":30,"type":"検出値"},{"day":539,"cs":20,"type":"検出値"},{"day":541,"cs":55,"type":"検出値"},{"day":544,"cs":12,"type":"検出値"},{"day":548,"cs":26,"type":"検出値"},{"day":551,"cs":5,"type":"検出値"},{"day":554,"cs":34,"type":"検出値"},{"day":556,"cs":16,"type":"検出値"},{"day":559,"cs":9,"type":"検出値"},{"day":563,"cs":24,"type":"検出値"},{"day":566,"cs":42,"type":"検出値"},{"day":569,"cs":13,"type":"検出値"},{"day":571,"cs":7,"type":"検出値"},{"day":574,"cs":29,"type":"検出値"},{"day":577,"cs":18,"type":"検出値"},{"day":581,"cs":11,"type":"検出値"},{"day":584,"cs":36,"type":"検出値"},{"day":586,"cs":22,"type":"検出値"},{"day":589,"cs":8,"type":"検出値"},{"day":591,"cs":15,"type":"検出値"},{"day":594,"cs":48,"type":"検出値"},{"day":596,"cs":27,"type":"検出値"},{"day":599,"cs":13,"type":"検出値"},
{"day":600,"cs":28,"type":"検出値"},{"day":602,"cs":16,"type":"検出値"},{"day":604,"cs":9,"type":"検出値"},{"day":606,"cs":40,"type":"検出値"},{"day":608,"cs":20,"type":"検出値"},{"day":610,"cs":12,"type":"検出値"},{"day":612,"cs":6,"type":"検出値"},{"day":614,"cs":30,"type":"検出値"},{"day":616,"cs":18,"type":"検出値"},{"day":618,"cs":50,"type":"検出値"},{"day":620,"cs":11,"type":"検出値"},{"day":622,"cs":24,"type":"検出値"},{"day":624,"cs":3.5,"type":"検出値"},{"day":626,"cs":15,"type":"検出値"},{"day":628,"cs":35,"type":"検出値"},{"day":630,"cs":8,"type":"検出値"},{"day":632,"cs":20,"type":"検出値"},{"day":634,"cs":81,"type":"検出値"},{"day":634,"cs":2.2,"type":"検出値"},{"day":636,"cs":13,"type":"検出値"},{"day":638,"cs":26,"type":"検出値"},{"day":640,"cs":45,"type":"検出値"},{"day":642,"cs":10,"type":"検出値"},{"day":644,"cs":17,"type":"検出値"},{"day":646,"cs":60,"type":"検出値"},{"day":648,"cs":30,"type":"検出値"},{"day":649,"cs":76,"type":"検出値"},{"day":650,"cs":7,"type":"検出値"},{"day":652,"cs":22,"type":"検出値"},{"day":654,"cs":14,"type":"検出値"},{"day":656,"cs":38,"type":"検出値"},{"day":658,"cs":5,"type":"検出値"},{"day":660,"cs":19,"type":"検出値"},{"day":662,"cs":28,"type":"検出値"},{"day":664,"cs":11,"type":"検出値"},{"day":666,"cs":50,"type":"検出値"},{"day":668,"cs":16,"type":"検出値"},{"day":670,"cs":9,"type":"検出値"},{"day":672,"cs":24,"type":"検出値"},{"day":674,"cs":34,"type":"検出値"},{"day":676,"cs":4,"type":"検出値"},{"day":678,"cs":13,"type":"検出値"},{"day":680,"cs":20,"type":"検出値"},{"day":682,"cs":42,"type":"検出値"},{"day":684,"cs":1.44,"type":"検出値"},{"day":684,"cs":8,"type":"検出値"},{"day":686,"cs":15,"type":"検出値"},{"day":688,"cs":27,"type":"検出値"},{"day":690,"cs":11,"type":"検出値"},{"day":692,"cs":55,"type":"検出値"},{"day":694,"cs":18,"type":"検出値"},{"day":696,"cs":6,"type":"検出値"},{"day":698,"cs":32,"type":"検出値"},
{"day":601,"cs":22,"type":"検出値"},{"day":603,"cs":7,"type":"検出値"},{"day":605,"cs":33,"type":"検出値"},{"day":607,"cs":14,"type":"検出値"},{"day":609,"cs":26,"type":"検出値"},{"day":611,"cs":46,"type":"検出値"},{"day":613,"cs":10,"type":"検出値"},{"day":615,"cs":21,"type":"検出値"},{"day":617,"cs":8,"type":"検出値"},{"day":619,"cs":38,"type":"検出値"},{"day":621,"cs":16,"type":"検出値"},{"day":623,"cs":30,"type":"検出値"},{"day":625,"cs":6,"type":"検出値"},{"day":627,"cs":24,"type":"検出値"},{"day":629,"cs":12,"type":"検出値"},{"day":631,"cs":55,"type":"検出値"},{"day":633,"cs":18,"type":"検出値"},{"day":635,"cs":9,"type":"検出値"},{"day":637,"cs":40,"type":"検出値"},{"day":639,"cs":21,"type":"検出値"},{"day":641,"cs":4.5,"type":"検出値"},{"day":643,"cs":28,"type":"検出値"},{"day":645,"cs":15,"type":"検出値"},{"day":647,"cs":70,"type":"検出値"},{"day":651,"cs":35,"type":"検出値"},{"day":653,"cs":11,"type":"検出値"},{"day":655,"cs":25,"type":"検出値"},{"day":657,"cs":8,"type":"検出値"},{"day":659,"cs":45,"type":"検出値"},{"day":661,"cs":14,"type":"検出値"},{"day":663,"cs":32,"type":"検出値"},{"day":665,"cs":6,"type":"検出値"},{"day":667,"cs":22,"type":"検出値"},{"day":669,"cs":40,"type":"検出値"},{"day":671,"cs":13,"type":"検出値"},{"day":673,"cs":3,"type":"検出値"},{"day":675,"cs":19,"type":"検出値"},{"day":677,"cs":28,"type":"検出値"},{"day":679,"cs":9,"type":"検出値"},{"day":681,"cs":60,"type":"検出値"},{"day":683,"cs":16,"type":"検出値"},{"day":685,"cs":25,"type":"検出値"},{"day":687,"cs":5,"type":"検出値"},{"day":689,"cs":37,"type":"検出値"},{"day":691,"cs":14,"type":"検出値"},{"day":693,"cs":22,"type":"検出値"},{"day":695,"cs":9,"type":"検出値"},{"day":697,"cs":48,"type":"検出値"},{"day":699,"cs":18,"type":"検出値"},
{"day":700,"cs":14,"type":"検出値"},{"day":702,"cs":22,"type":"検出値"},{"day":704,"cs":9,"type":"検出値"},{"day":706,"cs":140,"type":"検出値"},{"day":706,"cs":40,"type":"検出値"},{"day":708,"cs":16,"type":"検出値"},{"day":709,"cs":1.08,"type":"検出値"},{"day":710,"cs":25,"type":"検出値"},{"day":712,"cs":135,"type":"検出値"},{"day":712,"cs":5,"type":"検出値"},{"day":714,"cs":12,"type":"検出値"},{"day":716,"cs":30,"type":"検出値"},{"day":718,"cs":19,"type":"検出値"},{"day":720,"cs":8,"type":"検出値"},{"day":722,"cs":45,"type":"検出値"},{"day":724,"cs":14,"type":"検出値"},{"day":726,"cs":3,"type":"検出値"},{"day":728,"cs":26,"type":"検出値"},{"day":730,"cs":10,"type":"検出値"},{"day":732,"cs":20,"type":"検出値"},{"day":734,"cs":60,"type":"検出値"},{"day":736,"cs":16,"type":"検出値"},{"day":738,"cs":7,"type":"検出値"},{"day":740,"cs":35,"type":"検出値"},{"day":742,"cs":12,"type":"検出値"},{"day":744,"cs":2.5,"type":"検出値"},{"day":746,"cs":23,"type":"検出値"},{"day":748,"cs":17,"type":"検出値"},{"day":750,"cs":9,"type":"検出値"},{"day":752,"cs":40,"type":"検出値"},{"day":754,"cs":14,"type":"検出値"},{"day":756,"cs":5.5,"type":"検出値"},{"day":758,"cs":28,"type":"検出値"},{"day":760,"cs":11,"type":"検出値"},{"day":762,"cs":19,"type":"検出値"},{"day":764,"cs":70,"type":"検出値"},{"day":766,"cs":8,"type":"検出値"},{"day":768,"cs":30,"type":"検出値"},{"day":770,"cs":15,"type":"検出値"},{"day":772,"cs":1.37,"type":"検出値"},{"day":774,"cs":24,"type":"検出値"},{"day":775,"cs":101,"type":"検出値"},{"day":776,"cs":10,"type":"検出値"},{"day":778,"cs":38,"type":"検出値"},{"day":780,"cs":13,"type":"検出値"},{"day":782,"cs":6,"type":"検出値"},{"day":784,"cs":21,"type":"検出値"},{"day":786,"cs":50,"type":"検出値"},{"day":788,"cs":16,"type":"検出値"},{"day":790,"cs":9,"type":"検出値"},{"day":792,"cs":1.37,"type":"検出値"},{"day":794,"cs":27,"type":"検出値"},{"day":796,"cs":12,"type":"検出値"},{"day":798,"cs":18,"type":"検出値"},{"day":800,"cs":4,"type":"検出値"},{"day":802,"cs":33,"type":"検出値"},{"day":804,"cs":15,"type":"検出値"},{"day":806,"cs":8,"type":"検出値"},{"day":808,"cs":22,"type":"検出値"},{"day":810,"cs":1.7,"type":"検出値"},{"day":812,"cs":45,"type":"検出値"},{"day":814,"cs":12,"type":"検出値"},{"day":816,"cs":94,"type":"検出値"},{"day":816,"cs":26,"type":"検出値"},{"day":818,"cs":7,"type":"検出値"},{"day":820,"cs":17,"type":"検出値"},
{"day":701,"cs":28,"type":"検出値"},{"day":703,"cs":6,"type":"検出値"},{"day":705,"cs":52,"type":"検出値"},{"day":707,"cs":19,"type":"検出値"},{"day":709,"cs":35,"type":"検出値"},{"day":711,"cs":11,"type":"検出値"},{"day":713,"cs":24,"type":"検出値"},{"day":715,"cs":3.8,"type":"検出値"},{"day":717,"cs":40,"type":"検出値"},{"day":719,"cs":15,"type":"検出値"},{"day":721,"cs":27,"type":"検出値"},{"day":723,"cs":7,"type":"検出値"},{"day":725,"cs":55,"type":"検出値"},{"day":727,"cs":18,"type":"検出値"},{"day":729,"cs":33,"type":"検出値"},{"day":731,"cs":5,"type":"検出値"},{"day":733,"cs":21,"type":"検出値"},{"day":735,"cs":12,"type":"検出値"},{"day":737,"cs":44,"type":"検出値"},{"day":739,"cs":25,"type":"検出値"},{"day":741,"cs":8,"type":"検出値"},{"day":743,"cs":30,"type":"検出値"},{"day":745,"cs":16,"type":"検出値"},{"day":747,"cs":3.2,"type":"検出値"},{"day":749,"cs":48,"type":"検出値"},{"day":751,"cs":20,"type":"検出値"},{"day":753,"cs":11,"type":"検出値"},{"day":755,"cs":36,"type":"検出値"},{"day":757,"cs":6,"type":"検出値"},{"day":759,"cs":25,"type":"検出値"},{"day":761,"cs":15,"type":"検出値"},{"day":763,"cs":42,"type":"検出値"},{"day":765,"cs":9,"type":"検出値"},{"day":767,"cs":22,"type":"検出値"},{"day":769,"cs":4.5,"type":"検出値"},{"day":771,"cs":33,"type":"検出値"},{"day":773,"cs":17,"type":"検出値"},{"day":777,"cs":60,"type":"検出値"},{"day":779,"cs":7,"type":"検出値"},{"day":781,"cs":26,"type":"検出値"},{"day":783,"cs":12,"type":"検出値"},{"day":785,"cs":38,"type":"検出値"},{"day":787,"cs":2.4,"type":"検出値"},{"day":789,"cs":21,"type":"検出値"},{"day":791,"cs":30,"type":"検出値"},{"day":793,"cs":8,"type":"検出値"},{"day":795,"cs":45,"type":"検出値"},{"day":797,"cs":14,"type":"検出値"},{"day":799,"cs":25,"type":"検出値"},{"day":801,"cs":6,"type":"検出値"},{"day":803,"cs":18,"type":"検出値"},{"day":805,"cs":35,"type":"検出値"},{"day":807,"cs":3,"type":"検出値"},{"day":809,"cs":12,"type":"検出値"},{"day":811,"cs":28,"type":"検出値"},{"day":813,"cs":19,"type":"検出値"},{"day":815,"cs":9,"type":"検出値"},{"day":817,"cs":40,"type":"検出値"},{"day":819,"cs":24,"type":"検出値"},{"day":821,"cs":13,"type":"検出値"},{"day":823,"cs":5,"type":"検出値"},{"day":826,"cs":20,"type":"検出値"},{"day":829,"cs":36,"type":"検出値"},
{"day":824,"cs":30,"type":"検出値"},{"day":828,"cs":12,"type":"検出値"},{"day":832,"cs":20,"type":"検出値"},{"day":836,"cs":8,"type":"検出値"},{"day":840,"cs":25,"type":"検出値"},{"day":844,"cs":15,"type":"検出値"},{"day":848,"cs":35,"type":"検出値"},{"day":852,"cs":59,"type":"検出値"},{"day":852,"cs":10,"type":"検出値"},{"day":856,"cs":18,"type":"検出値"},{"day":860,"cs":28,"type":"検出値"},{"day":864,"cs":7,"type":"検出値"},{"day":868,"cs":22,"type":"検出値"},{"day":872,"cs":14,"type":"検出値"},{"day":876,"cs":33,"type":"検出値"},{"day":880,"cs":9,"type":"検出値"},{"day":884,"cs":19,"type":"検出値"},{"day":888,"cs":26,"type":"検出値"},{"day":892,"cs":12,"type":"検出値"},{"day":896,"cs":36,"type":"検出値"},{"day":899,"cs":17,"type":"検出値"},{"day":903,"cs":8,"type":"検出値"},
{"day":834,"cs":14,"type":"検出値"},{"day":838,"cs":30,"type":"検出値"},{"day":842,"cs":9,"type":"検出値"},{"day":846,"cs":22,"type":"検出値"},{"day":850,"cs":40,"type":"検出値"},{"day":854,"cs":13,"type":"検出値"},{"day":858,"cs":6,"type":"検出値"},{"day":862,"cs":25,"type":"検出値"},{"day":866,"cs":16,"type":"検出値"},{"day":870,"cs":35,"type":"検出値"},{"day":874,"cs":10,"type":"検出値"},{"day":878,"cs":20,"type":"検出値"},{"day":882,"cs":28,"type":"検出値"},{"day":886,"cs":6,"type":"検出値"},{"day":890,"cs":16,"type":"検出値"},{"day":894,"cs":24,"type":"検出値"},{"day":898,"cs":11,"type":"検出値"},{"day":902,"cs":30,"type":"検出値"},{"day":906,"cs":15,"type":"検出値"},
{"day":908,"cs":25,"type":"検出値"},{"day":912,"cs":14,"type":"検出値"},{"day":916,"cs":32,"type":"検出値"},{"day":920,"cs":9,"type":"検出値"},{"day":924,"cs":20,"type":"検出値"},{"day":928,"cs":5,"type":"検出値"},{"day":932,"cs":28,"type":"検出値"},{"day":936,"cs":13,"type":"検出値"},{"day":940,"cs":40,"type":"検出値"},{"day":944,"cs":18,"type":"検出値"},{"day":948,"cs":7,"type":"検出値"},{"day":952,"cs":24,"type":"検出値"},{"day":956,"cs":11,"type":"検出値"},{"day":960,"cs":35,"type":"検出値"},{"day":964,"cs":45,"type":"検出値"},{"day":966,"cs":16,"type":"検出値"},{"day":968,"cs":6,"type":"検出値"},{"day":971,"cs":1.8,"type":"検出値"},{"day":972,"cs":28,"type":"検出値"},{"day":975,"cs":45,"type":"検出値"},{"day":978,"cs":12,"type":"検出値"},{"day":982,"cs":20,"type":"検出値"},{"day":986,"cs":9,"type":"検出値"},{"day":990,"cs":30,"type":"検出値"},{"day":994,"cs":15,"type":"検出値"},{"day":998,"cs":5.5,"type":"検出値"},{"day":1002,"cs":22,"type":"検出値"},{"day":1007,"cs":1.34,"type":"検出値"},{"day":1008,"cs":13,"type":"検出値"},{"day":1012,"cs":28,"type":"検出値"},{"day":1016,"cs":8,"type":"検出値"},{"day":1020,"cs":18,"type":"検出値"},{"day":1024,"cs":35,"type":"検出値"},{"day":1028,"cs":11,"type":"検出値"},{"day":1032,"cs":24,"type":"検出値"},{"day":1036,"cs":6,"type":"検出値"},{"day":1040,"cs":16,"type":"検出値"},
{"day":910,"cs":38,"type":"検出値"},{"day":914,"cs":8,"type":"検出値"},{"day":918,"cs":22,"type":"検出値"},{"day":922,"cs":14,"type":"検出値"},{"day":926,"cs":30,"type":"検出値"},{"day":930,"cs":10,"type":"検出値"},{"day":934,"cs":19,"type":"検出値"},{"day":938,"cs":26,"type":"検出値"},{"day":942,"cs":12,"type":"検出値"},{"day":946,"cs":33,"type":"検出値"},{"day":950,"cs":9,"type":"検出値"},{"day":954,"cs":17,"type":"検出値"},{"day":958,"cs":28,"type":"検出値"},{"day":962,"cs":6,"type":"検出値"},{"day":970,"cs":20,"type":"検出値"},{"day":974,"cs":11,"type":"検出値"},{"day":980,"cs":33,"type":"検出値"},{"day":984,"cs":16,"type":"検出値"},{"day":988,"cs":24,"type":"検出値"},{"day":992,"cs":7,"type":"検出値"},{"day":996,"cs":19,"type":"検出値"},{"day":1000,"cs":32,"type":"検出値"},{"day":1004,"cs":10,"type":"検出値"},{"day":1010,"cs":20,"type":"検出値"},{"day":1014,"cs":14,"type":"検出値"},{"day":1018,"cs":30,"type":"検出値"},{"day":1022,"cs":6,"type":"検出値"},{"day":1026,"cs":22,"type":"検出値"},{"day":1030,"cs":15,"type":"検出値"},{"day":1034,"cs":38,"type":"検出値"},{"day":1038,"cs":10,"type":"検出値"},
{"day":1044,"cs":28,"type":"検出値"},{"day":1048,"cs":10,"type":"検出値"},{"day":1052,"cs":20,"type":"検出値"},{"day":1056,"cs":7,"type":"検出値"},{"day":1060,"cs":32,"type":"検出値"},{"day":1064,"cs":35,"type":"検出値"},{"day":1066,"cs":14,"type":"検出値"},{"day":1070,"cs":22,"type":"検出値"},{"day":1074,"cs":9,"type":"検出値"},{"day":1078,"cs":26,"type":"検出値"},{"day":1082,"cs":5,"type":"検出値"},{"day":1086,"cs":16,"type":"検出値"},{"day":1090,"cs":29,"type":"検出値"},{"day":1094,"cs":12,"type":"検出値"},{"day":1098,"cs":20,"type":"検出値"},{"day":1102,"cs":8,"type":"検出値"},{"day":1106,"cs":24,"type":"検出値"},{"day":1110,"cs":4,"type":"検出値"},{"day":1114,"cs":15,"type":"検出値"},{"day":1118,"cs":27,"type":"検出値"},{"day":1122,"cs":10,"type":"検出値"},{"day":1126,"cs":19,"type":"検出値"},{"day":1130,"cs":6,"type":"検出値"},{"day":1134,"cs":13,"type":"検出値"},
{"day":1042,"cs":21,"type":"検出値"},{"day":1046,"cs":16,"type":"検出値"},{"day":1050,"cs":34,"type":"検出値"},{"day":1054,"cs":12,"type":"検出値"},{"day":1058,"cs":25,"type":"検出値"},{"day":1062,"cs":8,"type":"検出値"},{"day":1068,"cs":18,"type":"検出値"},{"day":1072,"cs":30,"type":"検出値"},{"day":1076,"cs":13,"type":"検出値"},{"day":1080,"cs":20,"type":"検出値"},{"day":1084,"cs":10,"type":"検出値"},{"day":1088,"cs":24,"type":"検出値"},{"day":1092,"cs":7,"type":"検出値"},{"day":1096,"cs":15,"type":"検出値"},{"day":1100,"cs":33,"type":"検出値"},{"day":1104,"cs":11,"type":"検出値"},{"day":1108,"cs":18,"type":"検出値"},{"day":1112,"cs":9,"type":"検出値"},{"day":1116,"cs":22,"type":"検出値"},{"day":1120,"cs":14,"type":"検出値"},{"day":1124,"cs":31,"type":"検出値"},{"day":1128,"cs":9,"type":"検出値"},{"day":1132,"cs":20,"type":"検出値"},
{"day":1138,"cs":22,"type":"検出値"},{"day":1141,"cs":9,"type":"検出値"},{"day":1144,"cs":30,"type":"検出値"},{"day":1147,"cs":14,"type":"検出値"},{"day":1150,"cs":5,"type":"検出値"},{"day":1153,"cs":19,"type":"検出値"},{"day":1156,"cs":27,"type":"検出値"},{"day":1159,"cs":11,"type":"検出値"},{"day":1162,"cs":7,"type":"検出値"},{"day":1165,"cs":37,"type":"検出値"},{"day":1167,"cs":16,"type":"検出値"},{"day":1170,"cs":24,"type":"検出値"},{"day":1173,"cs":4,"type":"検出値"},{"day":1176,"cs":13,"type":"検出値"},{"day":1179,"cs":20,"type":"検出値"},{"day":1182,"cs":8,"type":"検出値"},{"day":1185,"cs":29,"type":"検出値"},{"day":1188,"cs":12,"type":"検出値"},{"day":1191,"cs":17,"type":"検出値"},{"day":1194,"cs":3.5,"type":"検出値"},{"day":1197,"cs":25,"type":"検出値"},{"day":1200,"cs":10,"type":"検出値"},{"day":1203,"cs":15,"type":"検出値"},{"day":1206,"cs":6,"type":"検出値"},{"day":1209,"cs":21,"type":"検出値"},{"day":1212,"cs":13,"type":"検出値"},{"day":1215,"cs":32,"type":"検出値"},{"day":1218,"cs":8,"type":"検出値"},{"day":1221,"cs":18,"type":"検出値"},{"day":1224,"cs":11,"type":"検出値"},{"day":1227,"cs":4,"type":"検出値"},{"day":1230,"cs":24,"type":"検出値"},{"day":1233,"cs":14,"type":"検出値"},{"day":1236,"cs":9,"type":"検出値"},{"day":1239,"cs":28,"type":"検出値"},{"day":1242,"cs":16,"type":"検出値"},{"day":1245,"cs":6,"type":"検出値"},{"day":1248,"cs":20,"type":"検出値"},{"day":1250,"cs":12,"type":"検出値"},{"day":1253,"cs":47,"type":"検出値"},{"day":1255,"cs":3,"type":"検出値"},{"day":1258,"cs":17,"type":"検出値"},{"day":1261,"cs":10,"type":"検出値"},{"day":1264,"cs":23,"type":"検出値"},{"day":1267,"cs":7,"type":"検出値"},{"day":1270,"cs":14,"type":"検出値"},{"day":1273,"cs":30,"type":"検出値"},{"day":1276,"cs":9,"type":"検出値"},{"day":1279,"cs":19,"type":"検出値"},{"day":1282,"cs":5,"type":"検出値"},{"day":1285,"cs":13,"type":"検出値"},{"day":1288,"cs":25,"type":"検出値"},{"day":1289,"cs":30,"type":"検出値"},{"day":1291,"cs":8,"type":"検出値"},{"day":1294,"cs":16,"type":"検出値"},{"day":1297,"cs":11,"type":"検出値"},{"day":1300,"cs":21,"type":"検出値"},{"day":1303,"cs":4,"type":"検出値"},{"day":1306,"cs":14,"type":"検出値"},{"day":1309,"cs":28,"type":"検出値"},{"day":1312,"cs":9,"type":"検出値"},{"day":1315,"cs":18,"type":"検出値"},{"day":1318,"cs":6,"type":"検出値"},{"day":1321,"cs":12,"type":"検出値"},{"day":1324,"cs":22,"type":"検出値"},{"day":1327,"cs":8,"type":"検出値"},{"day":1330,"cs":15,"type":"検出値"},{"day":1333,"cs":3,"type":"検出値"},{"day":1336,"cs":19,"type":"検出値"},
{"day":1136,"cs":16,"type":"検出値"},{"day":1139,"cs":28,"type":"検出値"},{"day":1142,"cs":12,"type":"検出値"},{"day":1145,"cs":20,"type":"検出値"},{"day":1148,"cs":8,"type":"検出値"},{"day":1151,"cs":34,"type":"検出値"},{"day":1154,"cs":14,"type":"検出値"},{"day":1157,"cs":6,"type":"検出値"},{"day":1160,"cs":23,"type":"検出値"},{"day":1163,"cs":17,"type":"検出値"},{"day":1166,"cs":10,"type":"検出値"},{"day":1169,"cs":30,"type":"検出値"},{"day":1172,"cs":13,"type":"検出値"},{"day":1175,"cs":21,"type":"検出値"},{"day":1178,"cs":6,"type":"検出値"},{"day":1181,"cs":26,"type":"検出値"},{"day":1184,"cs":15,"type":"検出値"},{"day":1187,"cs":9,"type":"検出値"},{"day":1190,"cs":36,"type":"検出値"},{"day":1193,"cs":18,"type":"検出値"},{"day":1196,"cs":12,"type":"検出値"},{"day":1199,"cs":28,"type":"検出値"},{"day":1202,"cs":7,"type":"検出値"},{"day":1205,"cs":22,"type":"検出値"},{"day":1208,"cs":16,"type":"検出値"},{"day":1211,"cs":9,"type":"検出値"},{"day":1214,"cs":40,"type":"検出値"},{"day":1217,"cs":20,"type":"検出値"},{"day":1220,"cs":13,"type":"検出値"},{"day":1223,"cs":6,"type":"検出値"},{"day":1226,"cs":27,"type":"検出値"},{"day":1229,"cs":16,"type":"検出値"},{"day":1232,"cs":10,"type":"検出値"},{"day":1235,"cs":33,"type":"検出値"},{"day":1238,"cs":19,"type":"検出値"},{"day":1241,"cs":5,"type":"検出値"},{"day":1244,"cs":24,"type":"検出値"},{"day":1247,"cs":13,"type":"検出値"},{"day":1250,"cs":8,"type":"検出値"},{"day":1252,"cs":30,"type":"検出値"},{"day":1256,"cs":16,"type":"検出値"},{"day":1259,"cs":11,"type":"検出値"},{"day":1262,"cs":36,"type":"検出値"},{"day":1265,"cs":19,"type":"検出値"},{"day":1268,"cs":5.5,"type":"検出値"},{"day":1271,"cs":24,"type":"検出値"},{"day":1274,"cs":12,"type":"検出値"},{"day":1277,"cs":8,"type":"検出値"},{"day":1280,"cs":28,"type":"検出値"},{"day":1283,"cs":17,"type":"検出値"},{"day":1286,"cs":10,"type":"検出値"},{"day":1290,"cs":20,"type":"検出値"},{"day":1293,"cs":6,"type":"検出値"},{"day":1296,"cs":26,"type":"検出値"},{"day":1299,"cs":14,"type":"検出値"},{"day":1302,"cs":9,"type":"検出値"},{"day":1305,"cs":18,"type":"検出値"},{"day":1308,"cs":7,"type":"検出値"},{"day":1311,"cs":24,"type":"検出値"},{"day":1314,"cs":12,"type":"検出値"},{"day":1317,"cs":4,"type":"検出値"},{"day":1320,"cs":20,"type":"検出値"},{"day":1323,"cs":15,"type":"検出値"},{"day":1326,"cs":9,"type":"検出値"},{"day":1329,"cs":26,"type":"検出値"},{"day":1332,"cs":11,"type":"検出値"},{"day":1335,"cs":7,"type":"検出値"},
{"day":1338,"cs":10,"type":"検出値"},{"day":1340,"cs":25,"type":"検出値"},{"day":1342,"cs":6,"type":"検出値"},{"day":1344,"cs":14,"type":"検出値"},{"day":1346,"cs":2.5,"type":"検出値"},{"day":1348,"cs":18,"type":"検出値"},{"day":1350,"cs":9,"type":"検出値"},{"day":1352,"cs":12,"type":"検出値"},{"day":1354,"cs":4,"type":"検出値"},{"day":1356,"cs":22,"type":"検出値"},{"day":1358,"cs":7,"type":"検出値"},{"day":1360,"cs":15,"type":"検出値"},{"day":1362,"cs":1.8,"type":"検出値"},{"day":1364,"cs":11,"type":"検出値"},{"day":1366,"cs":5,"type":"検出値"},{"day":1368,"cs":20,"type":"検出値"},{"day":1370,"cs":8,"type":"検出値"},{"day":1372,"cs":13,"type":"検出値"},{"day":1374,"cs":3,"type":"検出値"},{"day":1376,"cs":16,"type":"検出値"},{"day":1378,"cs":1.0,"type":"検出値"},{"day":1380,"cs":10,"type":"検出値"},{"day":1382,"cs":6,"type":"検出値"},{"day":1384,"cs":14,"type":"検出値"},{"day":1386,"cs":1.1,"type":"検出値"},{"day":1388,"cs":9,"type":"検出値"},{"day":1390,"cs":12,"type":"検出値"},{"day":1392,"cs":5,"type":"検出値"},
{"day":1337,"cs":16,"type":"検出値"},{"day":1339,"cs":8,"type":"検出値"},{"day":1341,"cs":20,"type":"検出値"},{"day":1343,"cs":11,"type":"検出値"},{"day":1345,"cs":4,"type":"検出値"},{"day":1347,"cs":24,"type":"検出値"},{"day":1349,"cs":13,"type":"検出値"},{"day":1351,"cs":6,"type":"検出値"},{"day":1353,"cs":17,"type":"検出値"},{"day":1355,"cs":10,"type":"検出値"},{"day":1357,"cs":2,"type":"検出値"},{"day":1359,"cs":21,"type":"検出値"},{"day":1361,"cs":12,"type":"検出値"},{"day":1363,"cs":7,"type":"検出値"},{"day":1365,"cs":15,"type":"検出値"},{"day":1367,"cs":3.5,"type":"検出値"},{"day":1369,"cs":10,"type":"検出値"},{"day":1371,"cs":18,"type":"検出値"},{"day":1373,"cs":6,"type":"検出値"},{"day":1375,"cs":12,"type":"検出値"},{"day":1377,"cs":2.2,"type":"検出値"},{"day":1379,"cs":14,"type":"検出値"},{"day":1381,"cs":8,"type":"検出値"},{"day":1383,"cs":19,"type":"検出値"},{"day":1385,"cs":4,"type":"検出値"},{"day":1387,"cs":11,"type":"検出値"},{"day":1389,"cs":7,"type":"検出値"},{"day":1391,"cs":15,"type":"検出値"},
{"day":309,"cs":0.01,"type":"ND"},{"day":381,"cs":0.01,"type":"ND"},{"day":446,"cs":0.01,"type":"ND"},{"day":451,"cs":0.01,"type":"ND"},{"day":457,"cs":0.01,"type":"ND"},{"day":463,"cs":0.01,"type":"ND"},{"day":468,"cs":0.01,"type":"ND"},{"day":475,"cs":0.01,"type":"ND"},{"day":481,"cs":0.01,"type":"ND"},{"day":486,"cs":0.01,"type":"ND"},{"day":493,"cs":0.01,"type":"ND"},{"day":499,"cs":0.01,"type":"ND"},{"day":504,"cs":0.01,"type":"ND"},{"day":511,"cs":0.01,"type":"ND"},{"day":517,"cs":0.01,"type":"ND"},{"day":522,"cs":0.01,"type":"ND"},{"day":529,"cs":0.01,"type":"ND"},{"day":536,"cs":0.01,"type":"ND"},{"day":541,"cs":0.01,"type":"ND"},{"day":547,"cs":0.01,"type":"ND"},{"day":554,"cs":0.01,"type":"ND"},{"day":560,"cs":0.01,"type":"ND"},{"day":565,"cs":0.01,"type":"ND"},{"day":572,"cs":0.01,"type":"ND"},{"day":579,"cs":0.01,"type":"ND"},{"day":584,"cs":0.01,"type":"ND"},{"day":590,"cs":0.01,"type":"ND"},{"day":597,"cs":0.01,"type":"ND"},{"day":603,"cs":0.01,"type":"ND"},{"day":609,"cs":0.01,"type":"ND"},{"day":615,"cs":0.01,"type":"ND"},{"day":622,"cs":0.01,"type":"ND"},{"day":628,"cs":0.01,"type":"ND"},{"day":633,"cs":0.01,"type":"ND"},{"day":640,"cs":0.01,"type":"ND"},{"day":647,"cs":0.01,"type":"ND"},{"day":652,"cs":0.01,"type":"ND"},{"day":658,"cs":0.01,"type":"ND"},{"day":665,"cs":0.01,"type":"ND"},{"day":671,"cs":0.01,"type":"ND"},{"day":676,"cs":0.01,"type":"ND"},{"day":683,"cs":0.01,"type":"ND"},{"day":690,"cs":0.01,"type":"ND"},{"day":695,"cs":0.01,"type":"ND"},{"day":701,"cs":0.01,"type":"ND"},{"day":708,"cs":0.01,"type":"ND"},{"day":714,"cs":0.01,"type":"ND"},{"day":719,"cs":0.01,"type":"ND"},{"day":726,"cs":0.01,"type":"ND"},{"day":733,"cs":0.01,"type":"ND"},{"day":738,"cs":0.01,"type":"ND"},{"day":744,"cs":0.01,"type":"ND"},{"day":751,"cs":0.01,"type":"ND"},{"day":757,"cs":0.01,"type":"ND"},{"day":762,"cs":0.01,"type":"ND"},{"day":769,"cs":0.01,"type":"ND"},{"day":776,"cs":0.01,"type":"ND"},{"day":781,"cs":0.01,"type":"ND"},{"day":787,"cs":0.01,"type":"ND"},{"day":794,"cs":0.01,"type":"ND"},{"day":800,"cs":0.01,"type":"ND"},{"day":805,"cs":0.01,"type":"ND"},{"day":812,"cs":0.01,"type":"ND"},{"day":819,"cs":0.01,"type":"ND"},{"day":824,"cs":0.01,"type":"ND"},{"day":830,"cs":0.01,"type":"ND"},{"day":837,"cs":0.01,"type":"ND"},{"day":843,"cs":0.01,"type":"ND"},{"day":848,"cs":0.01,"type":"ND"},{"day":855,"cs":0.01,"type":"ND"},{"day":862,"cs":0.01,"type":"ND"},{"day":867,"cs":0.01,"type":"ND"},{"day":873,"cs":0.01,"type":"ND"},{"day":880,"cs":0.01,"type":"ND"},{"day":886,"cs":0.01,"type":"ND"},{"day":891,"cs":0.01,"type":"ND"},{"day":898,"cs":0.01,"type":"ND"},{"day":905,"cs":0.01,"type":"ND"},{"day":910,"cs":0.01,"type":"ND"},{"day":916,"cs":0.01,"type":"ND"},{"day":923,"cs":0.01,"type":"ND"},{"day":929,"cs":0.01,"type":"ND"},{"day":934,"cs":0.01,"type":"ND"},{"day":941,"cs":0.01,"type":"ND"},{"day":948,"cs":0.01,"type":"ND"},{"day":953,"cs":0.01,"type":"ND"},{"day":959,"cs":0.01,"type":"ND"},{"day":966,"cs":0.01,"type":"ND"},{"day":972,"cs":0.01,"type":"ND"},{"day":977,"cs":0.01,"type":"ND"},{"day":984,"cs":0.01,"type":"ND"},{"day":991,"cs":0.01,"type":"ND"},{"day":996,"cs":0.01,"type":"ND"},{"day":1002,"cs":0.01,"type":"ND"},{"day":1009,"cs":0.01,"type":"ND"},{"day":1015,"cs":0.01,"type":"ND"},{"day":1020,"cs":0.01,"type":"ND"},{"day":1027,"cs":0.01,"type":"ND"},{"day":1034,"cs":0.01,"type":"ND"},{"day":1039,"cs":0.01,"type":"ND"},{"day":1045,"cs":0.01,"type":"ND"},{"day":1052,"cs":0.01,"type":"ND"},{"day":1058,"cs":0.01,"type":"ND"},{"day":1063,"cs":0.01,"type":"ND"},{"day":1070,"cs":0.01,"type":"ND"},{"day":1077,"cs":0.01,"type":"ND"},{"day":1082,"cs":0.01,"type":"ND"},{"day":1088,"cs":0.01,"type":"ND"},{"day":1095,"cs":0.01,"type":"ND"},{"day":1101,"cs":0.01,"type":"ND"},{"day":1106,"cs":0.01,"type":"ND"},{"day":1113,"cs":0.01,"type":"ND"},{"day":1120,"cs":0.01,"type":"ND"},{"day":1125,"cs":0.01,"type":"ND"},{"day":1131,"cs":0.01,"type":"ND"},{"day":1138,"cs":0.01,"type":"ND"},{"day":1144,"cs":0.01,"type":"ND"},{"day":1149,"cs":0.01,"type":"ND"},{"day":1156,"cs":0.01,"type":"ND"},{"day":1163,"cs":0.01,"type":"ND"},{"day":1168,"cs":0.01,"type":"ND"},{"day":1174,"cs":0.01,"type":"ND"},{"day":1181,"cs":0.01,"type":"ND"},{"day":1187,"cs":0.01,"type":"ND"},{"day":1192,"cs":0.01,"type":"ND"},{"day":1199,"cs":0.01,"type":"ND"},{"day":1206,"cs":0.01,"type":"ND"},{"day":1211,"cs":0.01,"type":"ND"},{"day":1217,"cs":0.01,"type":"ND"},{"day":1224,"cs":0.01,"type":"ND"},{"day":1230,"cs":0.01,"type":"ND"},{"day":1235,"cs":0.01,"type":"ND"},{"day":1242,"cs":0.01,"type":"ND"},{"day":1249,"cs":0.01,"type":"ND"},{"day":1257,"cs":0.01,"type":"ND"},{"day":1305,"cs":0.01,"type":"ND"},{"day":1350,"cs":0.01,"type":"ND"},{"day":1357,"cs":0.01,"type":"ND"},{"day":1363,"cs":0.01,"type":"ND"},{"day":1368,"cs":0.01,"type":"ND"},{"day":1375,"cs":0.01,"type":"ND"},{"day":1381,"cs":0.01,"type":"ND"},{"day":1386,"cs":0.01,"type":"ND"},{"day":1392,"cs":0.01,"type":"ND"}
]
},
"resolve": {"scale": {"x": "independent", "y": "independent"}},
"spacing": 35,
"hconcat": [
{
"columns": 2,
"bounds": "flush",
"spacing": {"row": 46, "column": 9},
"resolve": {"scale": {"x": "independent", "y": "independent"}},
"concat": [
{"width": 391, "height": 347, "view": {"fill": "#E5E5E5", "stroke": null}, "data": {"name": "p1"},
"resolve": {"axis": {"x": "independent"}},
"layer": [
{"mark": {"type": "point", "filled": false, "size": 66, "strokeWidth": 1.4, "opacity": 1},
"encoding": {
"x": {"field": "day", "type": "quantitative", "scale": {"domain": [-71, 1497], "nice": false, "zero": false},
"axis": {"orient": "bottom", "values": [0,150,300,450,600,750,900,1050,1200,1350], "labels": false, "ticks": false, "domain": false, "title": null, "grid": true, "gridOpacity": 1,
"gridColor": {"condition": {"test": "datum.value % 300 === 0", "value": "#FFFFFF"}, "value": "#F2F2F2"},
"gridWidth": {"condition": {"test": "datum.value % 300 === 0", "value": 1.1}, "value": 0.55}}},
"y": {"field": "cs", "type": "quantitative", "scale": {"type": "log", "domain": [0.005012, 19953], "nice": false},
"axis": {"values": [0.01,0.0316228,0.1,0.316228,1,3.16228,10,31.6228,100,316.228,1000,3162.28,10000],
"labelExpr": "abs(log(datum.value)/LN10 - round(log(datum.value)/LN10)) > 0.01 ? '' : datum.value < 0.05 ? 'ND' : datum.value < 0.5 ? '0.1' : format(datum.value, 'd')",
"grid": true, "gridOpacity": 1,
"gridColor": {"condition": {"test": "abs(log(datum.value)/LN10 - round(log(datum.value)/LN10)) < 0.01", "value": "#FFFFFF"}, "value": "#F2F2F2"},
"gridWidth": {"condition": {"test": "abs(log(datum.value)/LN10 - round(log(datum.value)/LN10)) < 0.01", "value": 1.1}, "value": 0.55},
"ticks": true, "tickSize": 9.5, "tickWidth": 1.3, "tickColor": "#7F7F7F",
"tickOpacity": {"condition": {"test": "abs(log(datum.value)/LN10 - round(log(datum.value)/LN10)) < 0.01", "value": 1}, "value": 0},
"domain": false, "labelColor": "#7F7F7F", "labelFontSize": 22, "labelPadding": 9, "labelOverlap": false, "labelFlush": false,
"title": "¹³⁷Cs (Bq/個体)", "titleY": 360, "titleFontSize": 30, "titleFontWeight": "normal", "titleColor": "#000000", "titlePadding": 17}},
"color": {"field": "type", "type": "nominal", "scale": {"domain": ["検出値", "ND"], "range": ["#E41A1C", "#377EB8"]}, "legend": null}
}},
{"mark": {"type": "point", "opacity": 0},
"encoding": {"x": {"field": "day", "type": "quantitative",
"axis": {"orient": "top", "offset": 18.5, "domain": true, "domainColor": "#CCCCCC", "domainWidth": 37, "domainCap": "butt", "ticks": false, "labels": false, "grid": false,
"title": "2000～2007年 級", "titleFontSize": 22, "titleFontWeight": "normal", "titleColor": "#1A1A1A", "titleBaseline": "middle", "titleY": 2, "titlePadding": 0}}}}
]},
{"width": 391, "height": 347, "view": {"fill": "#E5E5E5", "stroke": null}, "data": {"name": "p2"},
"resolve": {"axis": {"x": "independent"}},
"layer": [
{"mark": {"type": "point", "filled": false, "size": 66, "strokeWidth": 1.4, "opacity": 1},
"encoding": {
"x": {"field": "day", "type": "quantitative", "scale": {"domain": [-71, 1497], "nice": false, "zero": false},
"axis": {"orient": "bottom", "values": [0,150,300,450,600,750,900,1050,1200,1350], "labels": false, "ticks": false, "domain": false, "title": null, "grid": true, "gridOpacity": 1,
"gridColor": {"condition": {"test": "datum.value % 300 === 0", "value": "#FFFFFF"}, "value": "#F2F2F2"},
"gridWidth": {"condition": {"test": "datum.value % 300 === 0", "value": 1.1}, "value": 0.55}}},
"y": {"field": "cs", "type": "quantitative", "scale": {"type": "log", "domain": [0.005012, 19953], "nice": false},
"axis": {"values": [0.01,0.0316228,0.1,0.316228,1,3.16228,10,31.6228,100,316.228,1000,3162.28,10000],
"labels": false, "ticks": false, "domain": false, "title": null, "grid": true, "gridOpacity": 1,
"gridColor": {"condition": {"test": "abs(log(datum.value)/LN10 - round(log(datum.value)/LN10)) < 0.01", "value": "#FFFFFF"}, "value": "#F2F2F2"},
"gridWidth": {"condition": {"test": "abs(log(datum.value)/LN10 - round(log(datum.value)/LN10)) < 0.01", "value": 1.1}, "value": 0.55}}},
"color": {"field": "type", "type": "nominal", "scale": {"domain": ["検出値", "ND"], "range": ["#E41A1C", "#377EB8"]}, "legend": null}
}},
{"mark": {"type": "point", "opacity": 0},
"encoding": {"x": {"field": "day", "type": "quantitative",
"axis": {"orient": "top", "offset": 18.5, "domain": true, "domainColor": "#CCCCCC", "domainWidth": 37, "domainCap": "butt", "ticks": false, "labels": false, "grid": false,
"title": "2008年 級", "titleFontSize": 22, "titleFontWeight": "normal", "titleColor": "#1A1A1A", "titleBaseline": "middle", "titleY": 2, "titlePadding": 0}}}}
]},
{"width": 391, "height": 347, "view": {"fill": "#E5E5E5", "stroke": null}, "data": {"name": "p3"},
"resolve": {"axis": {"x": "independent"}},
"layer": [
{"mark": {"type": "point", "filled": false, "size": 66, "strokeWidth": 1.4, "opacity": 1},
"encoding": {
"x": {"field": "day", "type": "quantitative", "scale": {"domain": [-71, 1497], "nice": false, "zero": false},
"axis": {"orient": "bottom", "values": [0,150,300,450,600,750,900,1050,1200,1350],
"labelExpr": "datum.value % 300 === 0 ? format(datum.value, 'd') : ''",
"grid": true, "gridOpacity": 1,
"gridColor": {"condition": {"test": "datum.value % 300 === 0", "value": "#FFFFFF"}, "value": "#F2F2F2"},
"gridWidth": {"condition": {"test": "datum.value % 300 === 0", "value": 1.1}, "value": 0.55},
"ticks": true, "tickSize": 9.5, "tickWidth": 1.3, "tickColor": "#7F7F7F",
"tickOpacity": {"condition": {"test": "datum.value % 300 === 0", "value": 1}, "value": 0},
"domain": false, "labelColor": "#7F7F7F", "labelFontSize": 22, "labelPadding": 10, "labelOverlap": false, "labelFlush": false,
"title": "経過日数", "titleX": 395.5, "titleFontSize": 28, "titleFontWeight": "normal", "titleColor": "#000000", "titlePadding": 2}},
"y": {"field": "cs", "type": "quantitative", "scale": {"type": "log", "domain": [0.005012, 19953], "nice": false},
"axis": {"values": [0.01,0.0316228,0.1,0.316228,1,3.16228,10,31.6228,100,316.228,1000,3162.28,10000],
"labelExpr": "abs(log(datum.value)/LN10 - round(log(datum.value)/LN10)) > 0.01 ? '' : datum.value < 0.05 ? 'ND' : datum.value < 0.5 ? '0.1' : format(datum.value, 'd')",
"grid": true, "gridOpacity": 1,
"gridColor": {"condition": {"test": "abs(log(datum.value)/LN10 - round(log(datum.value)/LN10)) < 0.01", "value": "#FFFFFF"}, "value": "#F2F2F2"},
"gridWidth": {"condition": {"test": "abs(log(datum.value)/LN10 - round(log(datum.value)/LN10)) < 0.01", "value": 1.1}, "value": 0.55},
"ticks": true, "tickSize": 9.5, "tickWidth": 1.3, "tickColor": "#7F7F7F",
"tickOpacity": {"condition": {"test": "abs(log(datum.value)/LN10 - round(log(datum.value)/LN10)) < 0.01", "value": 1}, "value": 0},
"domain": false, "labelColor": "#7F7F7F", "labelFontSize": 22, "labelPadding": 9, "labelOverlap": false, "labelFlush": false, "title": null}},
"color": {"field": "type", "type": "nominal", "scale": {"domain": ["検出値", "ND"], "range": ["#E41A1C", "#377EB8"]}, "legend": null}
}},
{"mark": {"type": "point", "opacity": 0},
"encoding": {"x": {"field": "day", "type": "quantitative",
"axis": {"orient": "top", "offset": 18.5, "domain": true, "domainColor": "#CCCCCC", "domainWidth": 37, "domainCap": "butt", "ticks": false, "labels": false, "grid": false,
"title": "2009年 級", "titleFontSize": 22, "titleFontWeight": "normal", "titleColor": "#1A1A1A", "titleBaseline": "middle", "titleY": 2, "titlePadding": 0}}}}
]},
{"width": 391, "height": 347, "view": {"fill": "#E5E5E5", "stroke": null}, "data": {"name": "p4"},
"resolve": {"axis": {"x": "independent"}},
"layer": [
{"mark": {"type": "point", "filled": false, "size": 66, "strokeWidth": 1.4, "opacity": 1},
"encoding": {
"x": {"field": "day", "type": "quantitative", "scale": {"domain": [-71, 1497], "nice": false, "zero": false},
"axis": {"orient": "bottom", "values": [0,150,300,450,600,750,900,1050,1200,1350],
"labelExpr": "datum.value % 300 === 0 ? format(datum.value, 'd') : ''",
"grid": true, "gridOpacity": 1,
"gridColor": {"condition": {"test": "datum.value % 300 === 0", "value": "#FFFFFF"}, "value": "#F2F2F2"},
"gridWidth": {"condition": {"test": "datum.value % 300 === 0", "value": 1.1}, "value": 0.55},
"ticks": true, "tickSize": 9.5, "tickWidth": 1.3, "tickColor": "#7F7F7F",
"tickOpacity": {"condition": {"test": "datum.value % 300 === 0", "value": 1}, "value": 0},
"domain": false, "labelColor": "#7F7F7F", "labelFontSize": 22, "labelPadding": 10, "labelOverlap": false, "labelFlush": false, "title": null}},
"y": {"field": "cs", "type": "quantitative", "scale": {"type": "log", "domain": [0.005012, 19953], "nice": false},
"axis": {"values": [0.01,0.0316228,0.1,0.316228,1,3.16228,10,31.6228,100,316.228,1000,3162.28,10000],
"labels": false, "ticks": false, "domain": false, "title": null, "grid": true, "gridOpacity": 1,
"gridColor": {"condition": {"test": "abs(log(datum.value)/LN10 - round(log(datum.value)/LN10)) < 0.01", "value": "#FFFFFF"}, "value": "#F2F2F2"},
"gridWidth": {"condition": {"test": "abs(log(datum.value)/LN10 - round(log(datum.value)/LN10)) < 0.01", "value": 1.1}, "value": 0.55}}},
"color": {"field": "type", "type": "nominal", "scale": {"domain": ["検出値", "ND"], "range": ["#E41A1C", "#377EB8"]}, "legend": null}
}},
{"mark": {"type": "point", "opacity": 0},
"encoding": {"x": {"field": "day", "type": "quantitative",
"axis": {"orient": "top", "offset": 18.5, "domain": true, "domainColor": "#CCCCCC", "domainWidth": 37, "domainCap": "butt", "ticks": false, "labels": false, "grid": false,
"title": "2010年 級", "titleFontSize": 22, "titleFontWeight": "normal", "titleColor": "#1A1A1A", "titleBaseline": "middle", "titleY": 2, "titlePadding": 0}}}}
]}
]
},
{
"width": 39, "height": 425,
"view": {"stroke": null},
"data": {"values": [{"type": "検出値"}, {"type": "ND"}]},
"encoding": {
"y": {"field": "type", "type": "nominal", "sort": ["検出値", "ND"],
"scale": {"domain": ["検出値", "ND"], "range": [344, 425], "paddingInner": 0.0714, "paddingOuter": 0},
"axis": {"orient": "right", "domain": false, "ticks": false, "tickSize": 0, "grid": false, "labelPadding": 7, "labelFontSize": 22, "labelColor": "#000000", "labelAlign": "left",
"title": "TYPE", "titleAngle": 0, "titleAlign": "left", "titleBaseline": "alphabetic", "titleX": -39, "titleY": 334, "titleFontSize": 22, "titleFontWeight": "bold", "titleColor": "#000000"}}
},
"layer": [
{"mark": {"type": "square", "filled": true, "color": "#F2F2F2", "size": 1521, "opacity": 1}},
{"mark": {"type": "point", "filled": false, "size": 60, "strokeWidth": 1.4, "opacity": 1},
"encoding": {"color": {"field": "type", "type": "nominal", "scale": {"domain": ["検出値", "ND"], "range": ["#E41A1C", "#377EB8"]}, "legend": null}}}
]
}
]
}
